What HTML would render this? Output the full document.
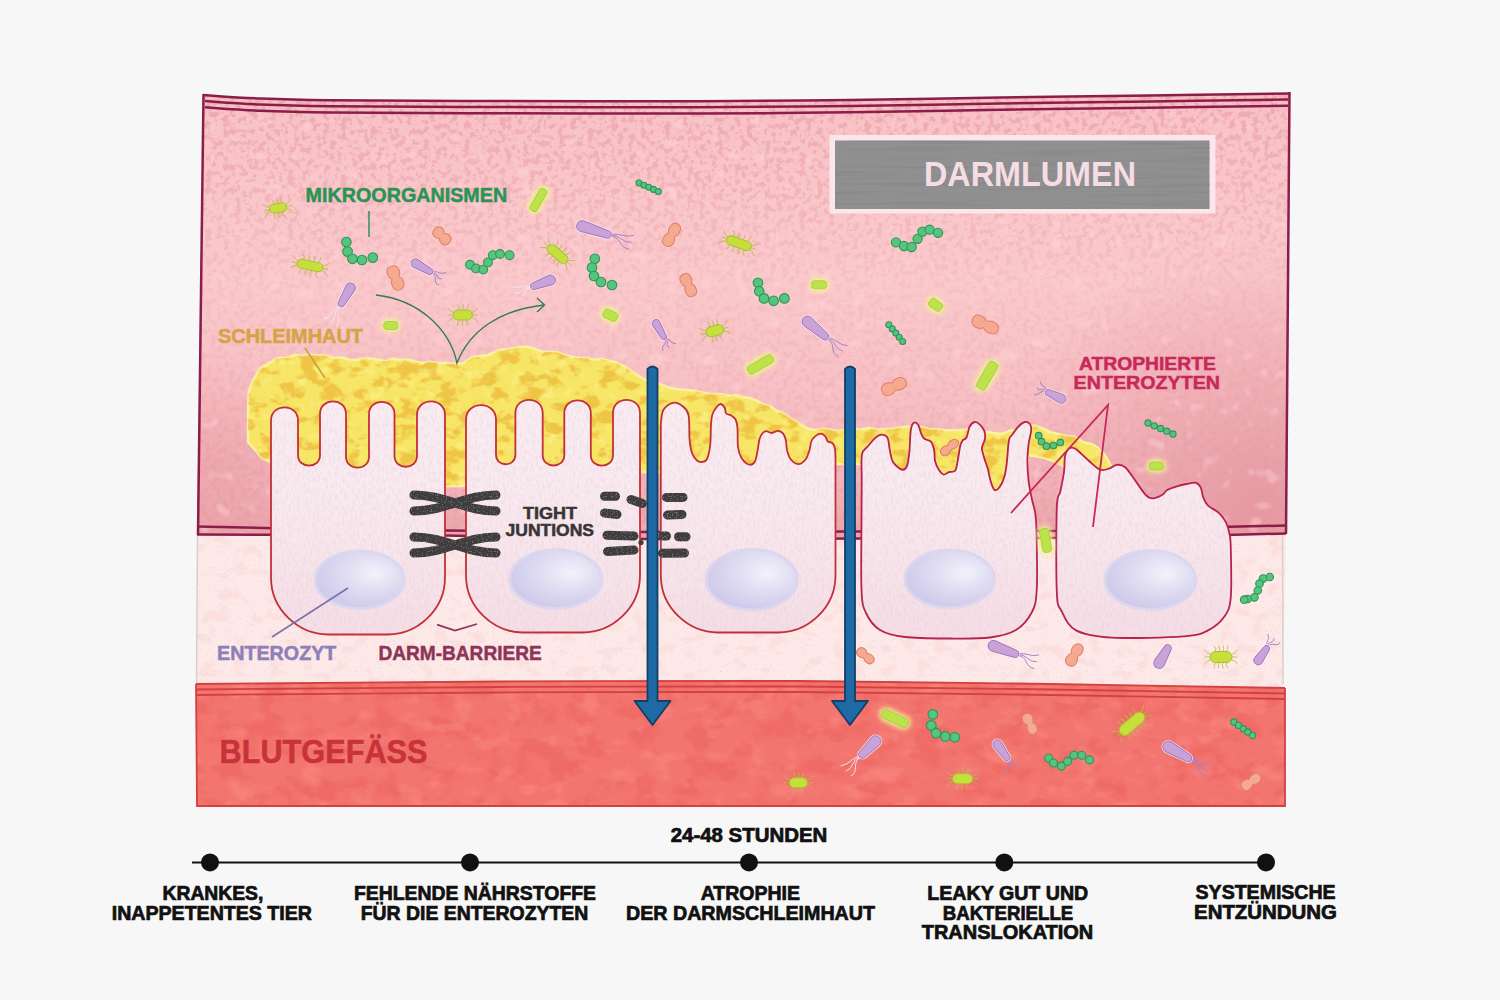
<!DOCTYPE html><html><head><meta charset="utf-8"><style>html,body{margin:0;padding:0;background:#f7f7f7;overflow:hidden;}svg{display:block;}text{font-family:"Liberation Sans",sans-serif;font-weight:bold;}</style></head><body>
<svg width="1500" height="1000" viewBox="0 0 1500 1000">
<defs>
<linearGradient id="lum" x1="0" y1="0" x2="0" y2="1">
<stop offset="0" stop-color="#f7c0c4"/><stop offset="0.12" stop-color="#f9c4c8"/><stop offset="0.42" stop-color="#fac9cc"/><stop offset="0.7" stop-color="#f6bfc3"/><stop offset="0.88" stop-color="#f2b4ba"/><stop offset="1" stop-color="#eba3aa"/>
</linearGradient>
<radialGradient id="nuc" cx="0.6" cy="0.35" r="0.8" fx="0.68" fy="0.4">
<stop offset="0" stop-color="#f3f2fa"/><stop offset="0.35" stop-color="#e2dff3"/><stop offset="0.8" stop-color="#cfcaea"/><stop offset="1" stop-color="#c8c2e5"/>
</radialGradient>
<filter id="speck" x="-0.1" y="-0.3" width="1.2" height="1.6" color-interpolation-filters="sRGB">
 <feTurbulence type="fractalNoise" baseFrequency="0.8" numOctaves="1" seed="2" result="n"/>
 <feColorMatrix in="n" type="matrix" values="0 0 0 0 0.42  0 0 0 0 0.42  0 0 0 0 0.42  -12 0 0 0 5.0" result="s"/>
 <feComposite in="s" in2="SourceAlpha" operator="in" result="s2"/>
 <feMerge><feMergeNode in="SourceGraphic"/><feMergeNode in="s2"/></feMerge>
</filter>
<filter id="glow" x="-1" y="-1" width="3" height="3"><feGaussianBlur stdDeviation="2.5"/></filter>
<filter id="tLum" x="0" y="0" width="1" height="1" color-interpolation-filters="sRGB">
 <feTurbulence type="fractalNoise" baseFrequency="0.17" numOctaves="4" seed="4"/>
 <feColorMatrix type="matrix" values="0 0 0 0 0.91  0 0 0 0 0.60  0 0 0 0 0.64  -8 0 0 0 4.0"/>
</filter>
<filter id="tLum2" x="0" y="0" width="1" height="1" color-interpolation-filters="sRGB">
 <feTurbulence type="fractalNoise" baseFrequency="0.06" numOctaves="2" seed="11"/>
 <feColorMatrix type="matrix" values="0 0 0 0 1  0 0 0 0 0.84  0 0 0 0 0.86  9 0 0 0 -5.8"/>
 <feGaussianBlur stdDeviation="1"/>
</filter>
<filter id="tMuc" x="0" y="0" width="1" height="1" color-interpolation-filters="sRGB">
 <feTurbulence type="fractalNoise" baseFrequency="0.05 0.08" numOctaves="3" seed="2"/>
 <feColorMatrix type="matrix" values="0 0 0 0 0.92  0 0 0 0 0.70  0 0 0 0 0.20  -7 0 0 0 3.6"/>
</filter>
<filter id="tMuc2" x="0" y="0" width="1" height="1" color-interpolation-filters="sRGB">
 <feTurbulence type="fractalNoise" baseFrequency="0.09" numOctaves="2" seed="5"/>
 <feColorMatrix type="matrix" values="0 0 0 0 0.99  0 0 0 0 0.95  0 0 0 0 0.55  5 0 0 0 -2.8"/>
</filter>
<filter id="tRed" x="0" y="0" width="1" height="1" color-interpolation-filters="sRGB">
 <feTurbulence type="fractalNoise" baseFrequency="0.035 0.05" numOctaves="3" seed="8"/>
 <feColorMatrix type="matrix" values="0 0 0 0 0.91  0 0 0 0 0.36  0 0 0 0 0.34  -5 0 0 0 2.6"/>
</filter>
<filter id="tRed2" x="0" y="0" width="1" height="1" color-interpolation-filters="sRGB">
 <feTurbulence type="fractalNoise" baseFrequency="0.04 0.06" numOctaves="3" seed="13"/>
 <feColorMatrix type="matrix" values="0 0 0 0 0.98  0 0 0 0 0.55  0 0 0 0 0.52  4.5 0 0 0 -2.4"/>
</filter>
<filter id="tCell" x="0" y="0" width="1" height="1" color-interpolation-filters="sRGB">
 <feTurbulence type="fractalNoise" baseFrequency="0.45 0.18" numOctaves="3" seed="3"/>
 <feColorMatrix type="matrix" values="0 0 0 0 0.91  0 0 0 0 0.78  0 0 0 0 0.84  -6 0 0 0 3.1"/>
</filter>
<filter id="tGray" x="0" y="0" width="1" height="1" color-interpolation-filters="sRGB">
 <feTurbulence type="fractalNoise" baseFrequency="0.008 0.35" numOctaves="2" seed="9"/>
 <feColorMatrix type="matrix" values="0 0 0 0 0.5  0 0 0 0 0.5  0 0 0 0 0.52  -4 0 0 0 2.1"/>
</filter>
<filter id="tCream2" x="0" y="0" width="1" height="1" color-interpolation-filters="sRGB">
 <feTurbulence type="fractalNoise" baseFrequency="0.06 0.09" numOctaves="3" seed="17"/>
 <feColorMatrix type="matrix" values="0 0 0 0 0.96  0 0 0 0 0.78  0 0 0 0 0.76  -6 0 0 0 2.75"/>
</filter>
<filter id="tCream" x="0" y="0" width="1" height="1" color-interpolation-filters="sRGB">
 <feTurbulence type="fractalNoise" baseFrequency="0.7" numOctaves="1" seed="21"/>
 <feColorMatrix type="matrix" values="0 0 0 0 0.9  0 0 0 0 0.75  0 0 0 0 0.74  -9 0 0 0 3.3"/>
</filter>

<linearGradient id="gMaskL" x1="0" y1="0" x2="0" y2="1"><stop offset="0" stop-color="#fff"/><stop offset="0.2" stop-color="#bbb"/><stop offset="0.45" stop-color="#444"/><stop offset="0.7" stop-color="#666"/><stop offset="1" stop-color="#ddd"/></linearGradient>
<radialGradient id="gBR" cx="1260" cy="500" r="260" gradientUnits="userSpaceOnUse"><stop offset="0" stop-color="#e2939c" stop-opacity="0.75"/><stop offset="0.6" stop-color="#e69aa3" stop-opacity="0.35"/><stop offset="1" stop-color="#e69aa3" stop-opacity="0"/></radialGradient>
<radialGradient id="gBL" cx="215" cy="470" r="120" gradientUnits="userSpaceOnUse"><stop offset="0" stop-color="#e6979f" stop-opacity="0.5"/><stop offset="1" stop-color="#e6979f" stop-opacity="0"/></radialGradient>
<linearGradient id="gCellV" x1="0" y1="395" x2="0" y2="640" gradientUnits="userSpaceOnUse"><stop offset="0" stop-color="#f2d2dc" stop-opacity="0"/><stop offset="0.45" stop-color="#f2d2dc" stop-opacity="0.15"/><stop offset="1" stop-color="#f0cdd8" stop-opacity="0.5"/></linearGradient>
<mask id="mLum" maskUnits="userSpaceOnUse" x="190" y="85" width="1110" height="460"><rect x="190" y="85" width="1110" height="460" fill="url(#gMaskL)"/></mask>
<clipPath id="cLum"><path d="M203.0,95.0 C212.5,95.6 238.8,97.6 260.0,98.5 C281.2,99.4 290.0,99.8 330.0,100.2 C370.0,100.6 438.3,100.8 500.0,101.0 C561.7,101.2 641.7,101.5 700.0,101.3 C758.3,101.1 800.0,100.6 850.0,100.0 C900.0,99.4 950.0,98.2 1000.0,97.5 C1050.0,96.8 1101.7,96.2 1150.0,95.5 C1198.3,94.8 1266.7,93.8 1290.0,93.5 L1286,534.5 L1286.0,534.3 L1180.0,536.8 L1047.0,538.8 L850.0,539.3 L650.0,539.8 L445.0,536.3 L320.0,535.8 L197.0,535.3 Z"/></clipPath>
<clipPath id="cMuc"><path d="M248.0,442.0 C248.1,436.2 247.6,400.5 249.0,392.0 C250.4,383.5 257.9,372.2 260.0,369.0 C262.1,365.8 265.1,365.8 266.7,364.8 C268.2,363.8 271.8,361.3 273.3,360.5 C274.9,359.8 278.3,358.3 280.0,358.0 C281.7,357.7 285.8,358.1 287.5,357.7 C289.2,357.4 293.2,355.3 295.0,355.1 C296.8,354.9 300.8,355.9 302.5,355.9 C304.2,355.8 308.2,355.0 310.0,355.0 C311.8,355.0 316.1,355.5 318.0,355.6 C319.9,355.6 324.1,355.3 326.0,355.6 C327.9,355.9 332.1,357.8 334.0,358.0 C335.9,358.2 340.1,357.3 342.0,357.5 C343.9,357.8 348.2,359.7 350.0,360.0 C351.8,360.3 355.5,359.9 357.1,359.8 C358.8,359.6 362.6,358.8 364.3,358.6 C366.0,358.5 369.8,358.6 371.4,358.7 C373.1,358.8 376.9,359.5 378.6,359.8 C380.2,360.0 384.0,361.2 385.7,361.0 C387.4,360.9 391.2,358.9 392.9,358.8 C394.5,358.7 398.3,359.9 400.0,360.0 C401.7,360.1 405.8,359.5 407.5,359.6 C409.2,359.8 413.2,361.0 415.0,361.4 C416.8,361.8 420.8,362.9 422.5,362.9 C424.2,363.0 428.1,362.0 430.0,362.0 C431.9,362.0 436.6,362.8 438.7,362.9 C440.7,363.0 445.3,362.9 447.3,363.0 C449.4,363.1 454.1,364.0 456.0,364.0 C457.9,364.0 462.1,363.6 464.0,362.9 C465.9,362.1 470.1,358.0 472.0,357.2 C473.9,356.4 478.2,356.2 480.0,356.0 C481.8,355.8 485.8,355.9 487.5,355.4 C489.2,354.9 493.2,352.5 495.0,351.8 C496.8,351.2 500.8,349.9 502.5,349.6 C504.2,349.3 508.0,349.3 510.0,349.0 C512.0,348.7 518.0,347.2 520.0,347.0 C522.0,346.8 525.8,346.8 527.5,347.0 C529.2,347.2 533.2,348.3 535.0,348.9 C536.8,349.4 540.8,351.4 542.5,351.8 C544.2,352.1 548.2,351.9 550.0,352.0 C551.8,352.1 555.8,352.1 557.5,352.5 C559.2,352.9 563.2,354.7 565.0,355.3 C566.8,355.8 570.8,356.6 572.5,356.9 C574.2,357.3 578.2,357.8 580.0,358.0 C581.8,358.2 585.8,358.1 587.5,358.3 C589.2,358.5 593.2,359.6 595.0,359.7 C596.8,359.7 600.8,358.7 602.5,358.9 C604.2,359.0 608.3,360.6 610.0,361.0 C611.7,361.4 615.1,362.0 616.7,362.6 C618.2,363.2 621.8,365.2 623.3,366.1 C624.9,366.9 628.3,368.9 630.0,370.0 C631.7,371.1 636.1,374.4 638.0,375.6 C639.9,376.7 644.1,379.2 646.0,380.0 C647.9,380.8 652.1,381.9 654.0,382.4 C655.9,383.0 660.1,384.1 662.0,384.7 C663.9,385.4 668.2,387.5 670.0,388.0 C671.8,388.5 675.8,389.1 677.5,389.3 C679.2,389.5 683.2,389.7 685.0,389.9 C686.8,390.0 690.8,390.1 692.5,390.4 C694.2,390.6 698.0,391.6 700.0,392.0 C702.0,392.4 707.7,393.7 710.0,393.9 C712.3,394.2 718.0,393.8 720.0,394.0 C722.0,394.2 725.8,395.5 727.5,395.6 C729.2,395.8 733.2,395.0 735.0,395.2 C736.8,395.4 740.8,396.9 742.5,397.2 C744.2,397.6 748.3,397.6 750.0,398.0 C751.7,398.4 755.1,400.0 756.7,400.7 C758.2,401.5 761.8,403.9 763.3,404.5 C764.9,405.1 768.4,405.3 770.0,406.0 C771.6,406.7 775.1,409.9 776.7,410.7 C778.2,411.6 781.8,412.5 783.3,413.3 C784.9,414.2 788.1,416.8 790.0,418.0 C791.9,419.2 798.0,422.8 800.0,424.0 C802.0,425.2 805.8,427.8 807.5,428.5 C809.2,429.2 813.2,430.0 815.0,430.0 C816.8,430.0 820.8,428.8 822.5,428.8 C824.2,428.7 828.2,429.5 830.0,429.7 C831.8,430.0 835.8,430.8 837.5,430.8 C839.2,430.9 843.2,430.2 845.0,430.0 C846.8,429.8 851.1,428.7 853.0,428.7 C854.9,428.6 859.1,429.7 861.0,429.6 C862.9,429.5 867.1,427.9 869.0,427.9 C870.9,427.9 875.1,429.6 877.0,429.7 C878.9,429.9 883.2,429.1 885.0,429.0 C886.8,428.9 890.9,429.2 892.7,429.0 C894.5,428.8 898.5,427.9 900.3,427.6 C902.1,427.3 906.3,426.4 908.0,426.5 C909.7,426.6 913.4,428.3 915.0,428.4 C916.6,428.5 920.4,427.2 922.0,427.3 C923.6,427.4 927.4,429.0 929.0,429.2 C930.6,429.5 934.4,429.5 936.0,429.6 C937.6,429.7 941.2,429.9 943.0,430.0 C944.8,430.1 949.1,430.3 951.0,430.3 C952.9,430.2 957.1,429.9 959.0,429.9 C960.9,429.8 965.2,429.8 967.0,430.0 C968.8,430.2 972.4,431.5 974.0,431.8 C975.6,432.1 979.4,432.8 981.0,432.8 C982.6,432.8 986.4,432.0 988.0,432.0 C989.6,432.1 993.4,433.2 995.0,433.3 C996.6,433.5 1000.1,433.8 1002.0,433.5 C1003.9,433.2 1008.9,430.8 1011.0,430.3 C1013.1,429.9 1017.4,430.6 1020.0,430.0 C1022.6,429.4 1030.2,425.6 1033.0,425.5 C1035.8,425.4 1041.9,428.2 1044.0,429.0 C1046.1,429.8 1049.4,431.6 1051.0,432.1 C1052.6,432.7 1056.2,433.6 1058.0,434.0 C1059.8,434.4 1064.5,435.6 1066.5,436.0 C1068.5,436.3 1073.0,436.3 1075.0,437.0 C1077.0,437.7 1081.9,441.5 1084.0,442.3 C1086.1,443.2 1090.7,443.2 1093.0,444.5 C1095.3,445.8 1101.5,451.2 1103.5,453.6 C1105.5,456.0 1108.8,461.7 1110.5,464.8 C1112.2,467.9 1117.1,478.2 1118.0,480.0 L1066.0,468.0 L1061.5,465.0 L1054.0,461.3 L1044.0,457.8 L1028.0,455.0 L1025.0,498.0 L864.0,498.0 L863.0,464.0 L836.0,464.0 L661.0,472.0 L640.0,472.0 L466.0,486.0 L445.0,486.0 L280.0,486.0 L271.0,462.0 L262.0,458.0Z"/></clipPath>
<clipPath id="cRed"><path d="M196.0,684.0 C246.7,683.6 399.3,682.0 500.0,681.5 C600.7,681.0 708.3,680.6 800.0,681.0 C891.7,681.4 969.2,682.8 1050.0,684.0 C1130.8,685.2 1245.8,687.3 1285.0,688.0 L1285,806 L197,806 Z"/></clipPath>
<clipPath id="cCream"><path d="M197.0,535.0 L320.0,535.5 L445.0,536.0 L650.0,539.5 L850.0,539.0 L1047.0,538.5 L1180.0,536.5 L1286.0,534.0 L1283,688 L196,685 Z"/></clipPath>
<clipPath id="cCells"><path d="M271.0,577.5 L271.0,420.5 C271.0,402.9 298.0,402.9 298.0,420.5 L298.0,455.0 C298.0,469.3 320.0,469.3 320.0,455.0 L320.0,414.0 C320.0,397.1 346.0,397.1 346.0,414.0 L346.0,456.5 C346.0,471.4 369.0,471.4 369.0,456.5 L369.0,414.2 C369.0,397.7 394.5,397.7 394.5,414.2 L394.5,455.8 C394.5,470.4 417.0,470.4 417.0,455.8 L417.0,415.0 C417.0,396.8 445.0,396.8 445.0,415.0 L445.0,577.5 C445.0,610.6 416.5,634.5 388.0,634.5 L328.0,634.5 C299.5,634.5 271.0,610.6 271.0,577.5Z"/><path d="M466.0,575.5 L466.0,419.7 C466.0,400.2 496.0,400.2 496.0,419.7 L496.0,454.8 C496.0,467.4 515.4,467.4 515.4,454.8 L515.4,413.2 C515.4,395.4 542.7,395.4 542.7,413.2 L542.7,455.0 C542.7,469.0 564.3,469.0 564.3,455.0 L564.3,413.2 C564.3,396.0 590.8,396.0 590.8,413.2 L590.8,454.9 C590.8,469.3 613.0,469.3 613.0,454.9 L613.0,413.0 C613.0,395.4 640.0,395.4 640.0,413.0 L640.0,575.5 C640.0,608.6 611.5,632.5 583.0,632.5 L523.0,632.5 C494.5,632.5 466.0,608.6 466.0,575.5Z"/><path d="M660.8,575.5 L660.8,425.0  C661.0,423.2 661.3,416.9 662.0,414.0 C662.7,411.1 663.1,409.6 665.1,407.7 C667.1,405.8 671.0,402.9 674.0,402.7 C677.0,402.5 680.5,404.4 682.9,406.5 C685.3,408.6 687.5,409.7 688.6,415.3 C689.7,420.9 689.0,433.7 689.6,440.0 C690.2,446.3 690.8,449.6 692.0,453.0 C693.2,456.4 695.3,459.0 697.0,460.5 C698.7,462.0 700.3,462.2 702.0,462.0 C703.7,461.8 705.6,461.8 707.0,459.0 C708.4,456.2 709.5,450.7 710.2,445.0 C710.9,439.3 710.6,430.2 711.0,425.0 C711.4,419.8 711.5,417.1 712.5,414.0 C713.5,410.9 715.7,408.2 717.1,406.5 C718.5,404.8 719.6,403.8 720.9,404.0 C722.2,404.2 723.8,406.1 724.7,407.7 C725.6,409.3 725.2,412.2 726.2,413.5 C727.2,414.8 729.4,414.3 731.0,415.3 C732.6,416.3 734.5,417.4 735.6,419.5 C736.7,421.6 737.1,423.4 737.5,428.0 C737.9,432.6 737.3,442.0 738.0,447.0 C738.7,452.0 739.7,455.1 741.5,458.0 C743.3,460.9 746.5,463.9 748.8,464.5 C751.0,465.1 753.5,464.2 755.0,461.5 C756.5,458.8 757.2,451.8 758.0,448.0 C758.8,444.2 758.7,441.5 759.5,439.0 C760.3,436.5 761.5,434.3 762.7,433.0 C763.9,431.7 765.0,431.2 766.5,431.2 C768.0,431.2 769.7,433.1 771.6,433.0 C773.5,432.9 776.1,430.7 778.0,430.8 C779.9,430.9 781.7,431.9 783.0,433.4 C784.3,434.9 785.1,437.2 785.8,440.0 C786.5,442.8 786.2,446.8 787.0,450.0 C787.8,453.2 788.6,456.6 790.5,459.0 C792.4,461.4 795.7,464.0 798.2,464.1 C800.7,464.2 803.6,461.9 805.5,459.5 C807.4,457.1 808.5,453.1 809.5,450.0 C810.5,446.9 810.4,443.4 811.5,441.0 C812.6,438.6 814.4,436.8 816.0,435.6 C817.6,434.4 819.5,433.6 821.0,433.7 C822.5,433.8 824.2,435.2 825.3,436.5 C826.4,437.8 826.6,440.4 827.8,441.5 C829.0,442.6 831.2,441.9 832.4,443.2 C833.6,444.4 834.5,446.5 835.0,449.0 C835.5,451.5 835.4,456.5 835.5,458.0 L835.5,575.5 C835.5,608.6 807.0,632.5 778.5,632.5 L717.8,632.5 C689.3,632.5 660.8,608.6 660.8,575.5Z"/><path d="M862.0,454.4 C863.0,448.8 865.5,449.2 867.7,446.5 C869.9,443.8 873.0,439.9 875.3,437.9 C877.6,435.9 879.6,434.7 881.6,434.7 C883.6,434.7 886.1,435.2 887.5,437.9 C888.9,440.5 889.0,446.6 889.9,450.6 C890.8,454.6 891.0,458.8 893.0,462.0 C895.0,465.2 899.6,469.0 901.9,469.6 C904.2,470.2 905.7,469.0 907.0,465.8 C908.3,462.6 908.9,456.6 909.5,450.6 C910.1,444.6 910.0,434.6 910.8,430.0 C911.5,425.4 912.7,423.5 914.0,422.7 C915.3,421.9 917.2,423.5 918.4,425.2 C919.5,426.9 920.0,430.6 920.9,432.8 C921.8,435.0 922.3,437.0 924.0,438.5 C925.7,440.0 929.3,439.7 931.0,441.7 C932.7,443.7 933.5,447.4 934.2,450.6 C934.9,453.8 934.2,457.5 935.0,460.7 C935.8,463.9 937.2,467.3 938.7,469.6 C940.2,471.9 942.0,474.2 943.7,474.6 C945.4,475.0 946.9,472.7 948.8,472.1 C950.7,471.5 953.6,472.7 955.1,470.8 C956.6,468.9 956.9,464.8 957.7,460.7 C958.6,456.6 959.4,449.4 960.2,446.0 C961.0,442.6 961.7,441.8 962.7,440.4 C963.8,439.0 965.3,439.8 966.5,437.5 C967.7,435.2 968.3,429.1 969.7,426.5 C971.1,423.9 973.1,422.3 974.8,422.0 C976.5,421.7 978.2,423.1 979.8,424.6 C981.4,426.1 983.4,428.5 984.3,430.9 C985.1,433.3 985.3,436.3 984.9,439.2 C984.5,442.1 982.0,444.8 981.9,448.0 C981.8,451.2 983.3,454.6 984.3,458.2 C985.3,461.8 987.0,465.8 988.0,469.6 C989.0,473.4 989.5,477.6 990.6,481.0 C991.7,484.4 992.9,488.8 994.4,489.8 C995.9,490.9 997.8,489.6 999.5,487.3 C1001.2,485.0 1003.4,480.3 1004.6,475.9 C1005.9,471.5 1006.3,466.7 1007.0,460.7 C1007.7,454.7 1008.1,444.3 1009.0,440.0 C1009.9,435.7 1010.6,436.9 1012.2,434.7 C1013.8,432.4 1016.4,428.6 1018.5,426.5 C1020.6,424.4 1022.9,422.4 1024.8,422.0 C1026.7,421.6 1028.8,422.6 1029.9,424.0 C1031.0,425.4 1031.4,426.9 1031.2,430.3 C1031.0,433.7 1029.2,439.1 1028.6,444.2 C1028.0,449.3 1027.4,454.6 1027.4,460.7 C1027.4,466.8 1027.9,474.7 1028.6,481.0 C1029.3,487.3 1030.6,493.0 1031.8,498.7 C1033.0,504.4 1034.7,508.1 1035.5,515.0 C1036.3,521.9 1036.5,527.5 1036.7,540.0 C1036.9,552.5 1037.5,578.0 1036.7,590.0 C1035.9,602.0 1035.5,605.3 1032.0,612.0 C1028.5,618.7 1023.0,625.8 1016.0,630.0 C1009.0,634.2 1001.0,636.1 990.0,637.5 C979.0,638.9 964.2,638.6 950.0,638.5 C935.8,638.4 916.7,638.4 905.0,637.0 C893.3,635.6 886.5,634.0 880.0,630.0 C873.5,626.0 869.1,619.7 866.0,613.0 C862.9,606.3 862.2,605.5 861.5,590.0 C860.8,574.5 861.5,538.3 861.5,520.0 C861.5,501.7 861.6,490.9 861.7,480.0 C861.8,469.1 861.0,460.0 862.0,454.4Z"/><path d="M1064.0,472.0 C1064.8,466.0 1064.2,459.2 1065.2,455.2 C1066.2,451.2 1068.2,449.0 1070.0,448.0 C1071.8,447.0 1073.0,447.2 1076.0,449.2 C1079.0,451.2 1084.0,456.6 1088.0,460.0 C1092.0,463.4 1096.4,468.2 1100.0,469.6 C1103.6,471.0 1106.8,469.2 1109.6,468.4 C1112.4,467.6 1114.2,465.0 1116.8,464.8 C1119.4,464.6 1122.0,464.4 1125.2,467.2 C1128.4,470.0 1132.6,477.0 1136.0,481.6 C1139.4,486.2 1142.8,492.0 1145.6,494.8 C1148.4,497.6 1150.0,498.4 1152.8,498.4 C1155.6,498.4 1160.0,496.2 1162.4,494.8 C1164.8,493.4 1164.8,491.4 1167.2,490.0 C1169.6,488.6 1173.6,487.4 1176.8,486.4 C1180.0,485.4 1183.2,484.6 1186.4,484.0 C1189.6,483.4 1193.6,482.2 1196.0,482.8 C1198.4,483.4 1199.6,485.2 1200.8,487.6 C1202.0,490.0 1202.0,494.2 1203.2,497.2 C1204.4,500.2 1205.4,503.0 1208.0,505.6 C1210.6,508.2 1215.8,510.0 1218.8,512.8 C1221.8,515.6 1224.2,518.8 1226.0,522.4 C1227.8,526.0 1228.8,530.0 1229.6,534.4 C1230.4,538.8 1230.6,538.4 1230.8,548.8 C1231.0,559.2 1231.8,585.6 1230.8,596.8 C1229.8,608.0 1228.6,610.4 1224.8,616.0 C1221.0,621.6 1214.8,627.0 1208.0,630.4 C1201.2,633.8 1200.0,635.2 1184.0,636.4 C1168.0,637.6 1130.0,638.6 1112.0,637.6 C1094.0,636.6 1084.4,634.8 1076.0,630.4 C1067.6,626.0 1064.8,617.6 1061.6,611.2 C1058.4,604.8 1057.6,609.2 1056.8,592.0 C1056.0,574.8 1056.2,524.8 1056.8,508.0 C1057.4,491.2 1059.2,497.2 1060.4,491.2 C1061.6,485.2 1063.2,478.0 1064.0,472.0Z"/></clipPath>
</defs>
<rect width="1500" height="1000" fill="#f7f7f7"/>
<path d="M203.0,95.0 C212.5,95.6 238.8,97.6 260.0,98.5 C281.2,99.4 290.0,99.8 330.0,100.2 C370.0,100.6 438.3,100.8 500.0,101.0 C561.7,101.2 641.7,101.5 700.0,101.3 C758.3,101.1 800.0,100.6 850.0,100.0 C900.0,99.4 950.0,98.2 1000.0,97.5 C1050.0,96.8 1101.7,96.2 1150.0,95.5 C1198.3,94.8 1266.7,93.8 1290.0,93.5 L1286,534.5 L1286.0,534.3 L1180.0,536.8 L1047.0,538.8 L850.0,539.3 L650.0,539.8 L445.0,536.3 L320.0,535.8 L197.0,535.3 Z" fill="url(#lum)"/>
<g clip-path="url(#cLum)"><rect x="195" y="90" width="1100" height="450" fill="url(#gBR)"/><rect x="195" y="90" width="1100" height="450" fill="url(#gBL)"/></g>
<g clip-path="url(#cLum)"><rect x="195" y="90" width="1100" height="450" filter="url(#tLum)" opacity="0.6" mask="url(#mLum)"/><rect x="195" y="90" width="1100" height="450" filter="url(#tLum2)" opacity="0.4"/></g>
<path d="M197.0,535.0 L320.0,535.5 L445.0,536.0 L650.0,539.5 L850.0,539.0 L1047.0,538.5 L1180.0,536.5 L1286.0,534.0 L1283,688 L196,685 Z" fill="#fde9e8"/>
<g clip-path="url(#cCream)"><rect x="195" y="530" width="1100" height="160" filter="url(#tCream)" opacity="0.4"/><rect x="195" y="530" width="1100" height="160" filter="url(#tCream2)" opacity="0.25"/></g>
<path d="M197.5,536 L196.5,684" stroke="#d9cfcf" stroke-width="1.5" fill="none"/>
<path d="M1282.5,534 L1283,684" stroke="#d9cfcf" stroke-width="1.5" fill="none"/>
<path d="M196.0,684.0 C246.7,683.6 399.3,682.0 500.0,681.5 C600.7,681.0 708.3,680.6 800.0,681.0 C891.7,681.4 969.2,682.8 1050.0,684.0 C1130.8,685.2 1245.8,687.3 1285.0,688.0 L1285,806 L197,806 Z" fill="#f3756f"/>
<g clip-path="url(#cRed)"><rect x="195" y="680" width="1100" height="130" filter="url(#tRed)" opacity="0.4"/><rect x="195" y="680" width="1100" height="130" filter="url(#tRed2)" opacity="0.5"/></g>
<g stroke="#d2413f" stroke-width="1.8" fill="none">
<path d="M196.0,684.0 C246.7,683.6 399.3,682.0 500.0,681.5 C600.7,681.0 708.3,680.6 800.0,681.0 C891.7,681.4 969.2,682.8 1050.0,684.0 C1130.8,685.2 1245.8,687.3 1285.0,688.0"/>
<path d="M196.0,689.5 C246.7,689.1 399.3,687.5 500.0,687.0 C600.7,686.5 708.3,686.1 800.0,686.5 C891.7,686.9 969.2,688.3 1050.0,689.5 C1130.8,690.7 1245.8,692.8 1285.0,693.5"/>
<path d="M196.0,695.0 C246.7,694.6 399.3,693.0 500.0,692.5 C600.7,692.0 708.3,691.6 800.0,692.0 C891.7,692.4 969.2,693.8 1050.0,695.0 C1130.8,696.2 1245.8,698.3 1285.0,699.0"/>
<path d="M196,684 L197,806 L1285,806 L1285,688"/>
</g>
<path d="M248.0,442.0 C248.1,436.2 247.6,400.5 249.0,392.0 C250.4,383.5 257.9,372.2 260.0,369.0 C262.1,365.8 265.1,365.8 266.7,364.8 C268.2,363.8 271.8,361.3 273.3,360.5 C274.9,359.8 278.3,358.3 280.0,358.0 C281.7,357.7 285.8,358.1 287.5,357.7 C289.2,357.4 293.2,355.3 295.0,355.1 C296.8,354.9 300.8,355.9 302.5,355.9 C304.2,355.8 308.2,355.0 310.0,355.0 C311.8,355.0 316.1,355.5 318.0,355.6 C319.9,355.6 324.1,355.3 326.0,355.6 C327.9,355.9 332.1,357.8 334.0,358.0 C335.9,358.2 340.1,357.3 342.0,357.5 C343.9,357.8 348.2,359.7 350.0,360.0 C351.8,360.3 355.5,359.9 357.1,359.8 C358.8,359.6 362.6,358.8 364.3,358.6 C366.0,358.5 369.8,358.6 371.4,358.7 C373.1,358.8 376.9,359.5 378.6,359.8 C380.2,360.0 384.0,361.2 385.7,361.0 C387.4,360.9 391.2,358.9 392.9,358.8 C394.5,358.7 398.3,359.9 400.0,360.0 C401.7,360.1 405.8,359.5 407.5,359.6 C409.2,359.8 413.2,361.0 415.0,361.4 C416.8,361.8 420.8,362.9 422.5,362.9 C424.2,363.0 428.1,362.0 430.0,362.0 C431.9,362.0 436.6,362.8 438.7,362.9 C440.7,363.0 445.3,362.9 447.3,363.0 C449.4,363.1 454.1,364.0 456.0,364.0 C457.9,364.0 462.1,363.6 464.0,362.9 C465.9,362.1 470.1,358.0 472.0,357.2 C473.9,356.4 478.2,356.2 480.0,356.0 C481.8,355.8 485.8,355.9 487.5,355.4 C489.2,354.9 493.2,352.5 495.0,351.8 C496.8,351.2 500.8,349.9 502.5,349.6 C504.2,349.3 508.0,349.3 510.0,349.0 C512.0,348.7 518.0,347.2 520.0,347.0 C522.0,346.8 525.8,346.8 527.5,347.0 C529.2,347.2 533.2,348.3 535.0,348.9 C536.8,349.4 540.8,351.4 542.5,351.8 C544.2,352.1 548.2,351.9 550.0,352.0 C551.8,352.1 555.8,352.1 557.5,352.5 C559.2,352.9 563.2,354.7 565.0,355.3 C566.8,355.8 570.8,356.6 572.5,356.9 C574.2,357.3 578.2,357.8 580.0,358.0 C581.8,358.2 585.8,358.1 587.5,358.3 C589.2,358.5 593.2,359.6 595.0,359.7 C596.8,359.7 600.8,358.7 602.5,358.9 C604.2,359.0 608.3,360.6 610.0,361.0 C611.7,361.4 615.1,362.0 616.7,362.6 C618.2,363.2 621.8,365.2 623.3,366.1 C624.9,366.9 628.3,368.9 630.0,370.0 C631.7,371.1 636.1,374.4 638.0,375.6 C639.9,376.7 644.1,379.2 646.0,380.0 C647.9,380.8 652.1,381.9 654.0,382.4 C655.9,383.0 660.1,384.1 662.0,384.7 C663.9,385.4 668.2,387.5 670.0,388.0 C671.8,388.5 675.8,389.1 677.5,389.3 C679.2,389.5 683.2,389.7 685.0,389.9 C686.8,390.0 690.8,390.1 692.5,390.4 C694.2,390.6 698.0,391.6 700.0,392.0 C702.0,392.4 707.7,393.7 710.0,393.9 C712.3,394.2 718.0,393.8 720.0,394.0 C722.0,394.2 725.8,395.5 727.5,395.6 C729.2,395.8 733.2,395.0 735.0,395.2 C736.8,395.4 740.8,396.9 742.5,397.2 C744.2,397.6 748.3,397.6 750.0,398.0 C751.7,398.4 755.1,400.0 756.7,400.7 C758.2,401.5 761.8,403.9 763.3,404.5 C764.9,405.1 768.4,405.3 770.0,406.0 C771.6,406.7 775.1,409.9 776.7,410.7 C778.2,411.6 781.8,412.5 783.3,413.3 C784.9,414.2 788.1,416.8 790.0,418.0 C791.9,419.2 798.0,422.8 800.0,424.0 C802.0,425.2 805.8,427.8 807.5,428.5 C809.2,429.2 813.2,430.0 815.0,430.0 C816.8,430.0 820.8,428.8 822.5,428.8 C824.2,428.7 828.2,429.5 830.0,429.7 C831.8,430.0 835.8,430.8 837.5,430.8 C839.2,430.9 843.2,430.2 845.0,430.0 C846.8,429.8 851.1,428.7 853.0,428.7 C854.9,428.6 859.1,429.7 861.0,429.6 C862.9,429.5 867.1,427.9 869.0,427.9 C870.9,427.9 875.1,429.6 877.0,429.7 C878.9,429.9 883.2,429.1 885.0,429.0 C886.8,428.9 890.9,429.2 892.7,429.0 C894.5,428.8 898.5,427.9 900.3,427.6 C902.1,427.3 906.3,426.4 908.0,426.5 C909.7,426.6 913.4,428.3 915.0,428.4 C916.6,428.5 920.4,427.2 922.0,427.3 C923.6,427.4 927.4,429.0 929.0,429.2 C930.6,429.5 934.4,429.5 936.0,429.6 C937.6,429.7 941.2,429.9 943.0,430.0 C944.8,430.1 949.1,430.3 951.0,430.3 C952.9,430.2 957.1,429.9 959.0,429.9 C960.9,429.8 965.2,429.8 967.0,430.0 C968.8,430.2 972.4,431.5 974.0,431.8 C975.6,432.1 979.4,432.8 981.0,432.8 C982.6,432.8 986.4,432.0 988.0,432.0 C989.6,432.1 993.4,433.2 995.0,433.3 C996.6,433.5 1000.1,433.8 1002.0,433.5 C1003.9,433.2 1008.9,430.8 1011.0,430.3 C1013.1,429.9 1017.4,430.6 1020.0,430.0 C1022.6,429.4 1030.2,425.6 1033.0,425.5 C1035.8,425.4 1041.9,428.2 1044.0,429.0 C1046.1,429.8 1049.4,431.6 1051.0,432.1 C1052.6,432.7 1056.2,433.6 1058.0,434.0 C1059.8,434.4 1064.5,435.6 1066.5,436.0 C1068.5,436.3 1073.0,436.3 1075.0,437.0 C1077.0,437.7 1081.9,441.5 1084.0,442.3 C1086.1,443.2 1090.7,443.2 1093.0,444.5 C1095.3,445.8 1101.5,451.2 1103.5,453.6 C1105.5,456.0 1108.8,461.7 1110.5,464.8 C1112.2,467.9 1117.1,478.2 1118.0,480.0 L1066.0,468.0 L1061.5,465.0 L1054.0,461.3 L1044.0,457.8 L1028.0,455.0 L1025.0,498.0 L864.0,498.0 L863.0,464.0 L836.0,464.0 L661.0,472.0 L640.0,472.0 L466.0,486.0 L445.0,486.0 L280.0,486.0 L271.0,462.0 L262.0,458.0Z" fill="#f7e566" stroke="#faf2a0" stroke-width="2.5"/>
<g clip-path="url(#cMuc)"><rect x="240" y="340" width="890" height="150" filter="url(#tMuc)" opacity="0.62"/><rect x="240" y="340" width="890" height="150" filter="url(#tMuc2)" opacity="0.6"/></g>
<g fill="#55c47f" stroke="#2e9558" stroke-width="1.1"><circle cx="1038.7" cy="435.7" r="3.3"/><circle cx="1041.5" cy="441.7" r="3.3"/><circle cx="1046.4" cy="446.2" r="3.3"/><circle cx="1053.4" cy="445.5" r="3.3"/><circle cx="1060.4" cy="442.4" r="3.3"/></g>
<g transform="translate(949.5,447.4) rotate(-40.0)"><path d="M-10.5,0 C-10.5,-4.7 -5.8,-4.9 -2.6,-4.0 C-1.1,-3.4 -0.5,-2.6 0.0,-2.6 C2.6,-5.1 10.5,-5.1 10.5,0 C10.5,5.1 2.6,5.1 0.0,2.6 C-0.5,2.6 -1.1,3.4 -2.6,4.0 C-5.8,4.9 -10.5,4.7 -10.5,0Z" fill="#f5aa90" stroke="#de7f6a" stroke-width="1"/></g>
<g stroke="#8b1d4b" stroke-width="2.5" fill="none">
<path d="M197.0,526.5 C217.5,526.9 278.7,528.3 320.0,529.0 C361.3,529.7 390.0,530.0 445.0,530.5 C500.0,531.0 582.5,531.8 650.0,532.0 C717.5,532.2 783.8,531.7 850.0,531.5 C916.2,531.3 992.0,531.6 1047.0,531.0 C1102.0,530.4 1140.2,528.9 1180.0,528.0 C1219.8,527.1 1268.3,525.9 1286.0,525.5"/>
<path d="M197.0,534.5 C217.5,534.6 278.7,534.8 320.0,535.0 C361.3,535.2 390.0,534.8 445.0,535.5 C500.0,536.2 582.5,538.5 650.0,539.0 C717.5,539.5 783.8,538.7 850.0,538.5 C916.2,538.3 992.0,538.4 1047.0,538.0 C1102.0,537.6 1140.2,536.8 1180.0,536.0 C1219.8,535.2 1268.3,533.9 1286.0,533.5"/>
<path d="M203.5,94 L198,535"/><path d="M1289.5,92 L1286,534"/>
<path d="M203.0,95.0 C212.5,95.6 238.8,97.6 260.0,98.5 C281.2,99.4 290.0,99.8 330.0,100.2 C370.0,100.6 438.3,100.8 500.0,101.0 C561.7,101.2 641.7,101.5 700.0,101.3 C758.3,101.1 800.0,100.6 850.0,100.0 C900.0,99.4 950.0,98.2 1000.0,97.5 C1050.0,96.8 1101.7,96.2 1150.0,95.5 C1198.3,94.8 1266.7,93.8 1290.0,93.5"/>
<path d="M205.0,101.0 C214.2,101.6 239.2,103.6 260.0,104.5 C280.8,105.4 290.0,105.8 330.0,106.2 C370.0,106.6 438.3,106.8 500.0,107.0 C561.7,107.2 641.7,107.5 700.0,107.3 C758.3,107.1 800.0,106.6 850.0,106.0 C900.0,105.4 950.0,104.2 1000.0,103.5 C1050.0,102.8 1102.0,102.2 1150.0,101.5 C1198.0,100.8 1265.0,99.8 1288.0,99.5"/>
<path d="M205.0,107.3 C214.2,107.9 239.2,109.9 260.0,110.8 C280.8,111.7 290.0,112.1 330.0,112.5 C370.0,112.9 438.3,113.1 500.0,113.3 C561.7,113.5 641.7,113.8 700.0,113.6 C758.3,113.4 800.0,112.9 850.0,112.3 C900.0,111.7 950.0,110.5 1000.0,109.8 C1050.0,109.0 1102.0,108.5 1150.0,107.8 C1198.0,107.1 1265.0,106.1 1288.0,105.8"/>
</g>
<path d="M271.0,577.5 L271.0,420.5 C271.0,402.9 298.0,402.9 298.0,420.5 L298.0,455.0 C298.0,469.3 320.0,469.3 320.0,455.0 L320.0,414.0 C320.0,397.1 346.0,397.1 346.0,414.0 L346.0,456.5 C346.0,471.4 369.0,471.4 369.0,456.5 L369.0,414.2 C369.0,397.7 394.5,397.7 394.5,414.2 L394.5,455.8 C394.5,470.4 417.0,470.4 417.0,455.8 L417.0,415.0 C417.0,396.8 445.0,396.8 445.0,415.0 L445.0,577.5 C445.0,610.6 416.5,634.5 388.0,634.5 L328.0,634.5 C299.5,634.5 271.0,610.6 271.0,577.5Z" fill="#f9edf2"/>
<path d="M466.0,575.5 L466.0,419.7 C466.0,400.2 496.0,400.2 496.0,419.7 L496.0,454.8 C496.0,467.4 515.4,467.4 515.4,454.8 L515.4,413.2 C515.4,395.4 542.7,395.4 542.7,413.2 L542.7,455.0 C542.7,469.0 564.3,469.0 564.3,455.0 L564.3,413.2 C564.3,396.0 590.8,396.0 590.8,413.2 L590.8,454.9 C590.8,469.3 613.0,469.3 613.0,454.9 L613.0,413.0 C613.0,395.4 640.0,395.4 640.0,413.0 L640.0,575.5 C640.0,608.6 611.5,632.5 583.0,632.5 L523.0,632.5 C494.5,632.5 466.0,608.6 466.0,575.5Z" fill="#f9edf2"/>
<path d="M660.8,575.5 L660.8,425.0  C661.0,423.2 661.3,416.9 662.0,414.0 C662.7,411.1 663.1,409.6 665.1,407.7 C667.1,405.8 671.0,402.9 674.0,402.7 C677.0,402.5 680.5,404.4 682.9,406.5 C685.3,408.6 687.5,409.7 688.6,415.3 C689.7,420.9 689.0,433.7 689.6,440.0 C690.2,446.3 690.8,449.6 692.0,453.0 C693.2,456.4 695.3,459.0 697.0,460.5 C698.7,462.0 700.3,462.2 702.0,462.0 C703.7,461.8 705.6,461.8 707.0,459.0 C708.4,456.2 709.5,450.7 710.2,445.0 C710.9,439.3 710.6,430.2 711.0,425.0 C711.4,419.8 711.5,417.1 712.5,414.0 C713.5,410.9 715.7,408.2 717.1,406.5 C718.5,404.8 719.6,403.8 720.9,404.0 C722.2,404.2 723.8,406.1 724.7,407.7 C725.6,409.3 725.2,412.2 726.2,413.5 C727.2,414.8 729.4,414.3 731.0,415.3 C732.6,416.3 734.5,417.4 735.6,419.5 C736.7,421.6 737.1,423.4 737.5,428.0 C737.9,432.6 737.3,442.0 738.0,447.0 C738.7,452.0 739.7,455.1 741.5,458.0 C743.3,460.9 746.5,463.9 748.8,464.5 C751.0,465.1 753.5,464.2 755.0,461.5 C756.5,458.8 757.2,451.8 758.0,448.0 C758.8,444.2 758.7,441.5 759.5,439.0 C760.3,436.5 761.5,434.3 762.7,433.0 C763.9,431.7 765.0,431.2 766.5,431.2 C768.0,431.2 769.7,433.1 771.6,433.0 C773.5,432.9 776.1,430.7 778.0,430.8 C779.9,430.9 781.7,431.9 783.0,433.4 C784.3,434.9 785.1,437.2 785.8,440.0 C786.5,442.8 786.2,446.8 787.0,450.0 C787.8,453.2 788.6,456.6 790.5,459.0 C792.4,461.4 795.7,464.0 798.2,464.1 C800.7,464.2 803.6,461.9 805.5,459.5 C807.4,457.1 808.5,453.1 809.5,450.0 C810.5,446.9 810.4,443.4 811.5,441.0 C812.6,438.6 814.4,436.8 816.0,435.6 C817.6,434.4 819.5,433.6 821.0,433.7 C822.5,433.8 824.2,435.2 825.3,436.5 C826.4,437.8 826.6,440.4 827.8,441.5 C829.0,442.6 831.2,441.9 832.4,443.2 C833.6,444.4 834.5,446.5 835.0,449.0 C835.5,451.5 835.4,456.5 835.5,458.0 L835.5,575.5 C835.5,608.6 807.0,632.5 778.5,632.5 L717.8,632.5 C689.3,632.5 660.8,608.6 660.8,575.5Z" fill="#f9edf2"/>
<path d="M862.0,454.4 C863.0,448.8 865.5,449.2 867.7,446.5 C869.9,443.8 873.0,439.9 875.3,437.9 C877.6,435.9 879.6,434.7 881.6,434.7 C883.6,434.7 886.1,435.2 887.5,437.9 C888.9,440.5 889.0,446.6 889.9,450.6 C890.8,454.6 891.0,458.8 893.0,462.0 C895.0,465.2 899.6,469.0 901.9,469.6 C904.2,470.2 905.7,469.0 907.0,465.8 C908.3,462.6 908.9,456.6 909.5,450.6 C910.1,444.6 910.0,434.6 910.8,430.0 C911.5,425.4 912.7,423.5 914.0,422.7 C915.3,421.9 917.2,423.5 918.4,425.2 C919.5,426.9 920.0,430.6 920.9,432.8 C921.8,435.0 922.3,437.0 924.0,438.5 C925.7,440.0 929.3,439.7 931.0,441.7 C932.7,443.7 933.5,447.4 934.2,450.6 C934.9,453.8 934.2,457.5 935.0,460.7 C935.8,463.9 937.2,467.3 938.7,469.6 C940.2,471.9 942.0,474.2 943.7,474.6 C945.4,475.0 946.9,472.7 948.8,472.1 C950.7,471.5 953.6,472.7 955.1,470.8 C956.6,468.9 956.9,464.8 957.7,460.7 C958.6,456.6 959.4,449.4 960.2,446.0 C961.0,442.6 961.7,441.8 962.7,440.4 C963.8,439.0 965.3,439.8 966.5,437.5 C967.7,435.2 968.3,429.1 969.7,426.5 C971.1,423.9 973.1,422.3 974.8,422.0 C976.5,421.7 978.2,423.1 979.8,424.6 C981.4,426.1 983.4,428.5 984.3,430.9 C985.1,433.3 985.3,436.3 984.9,439.2 C984.5,442.1 982.0,444.8 981.9,448.0 C981.8,451.2 983.3,454.6 984.3,458.2 C985.3,461.8 987.0,465.8 988.0,469.6 C989.0,473.4 989.5,477.6 990.6,481.0 C991.7,484.4 992.9,488.8 994.4,489.8 C995.9,490.9 997.8,489.6 999.5,487.3 C1001.2,485.0 1003.4,480.3 1004.6,475.9 C1005.9,471.5 1006.3,466.7 1007.0,460.7 C1007.7,454.7 1008.1,444.3 1009.0,440.0 C1009.9,435.7 1010.6,436.9 1012.2,434.7 C1013.8,432.4 1016.4,428.6 1018.5,426.5 C1020.6,424.4 1022.9,422.4 1024.8,422.0 C1026.7,421.6 1028.8,422.6 1029.9,424.0 C1031.0,425.4 1031.4,426.9 1031.2,430.3 C1031.0,433.7 1029.2,439.1 1028.6,444.2 C1028.0,449.3 1027.4,454.6 1027.4,460.7 C1027.4,466.8 1027.9,474.7 1028.6,481.0 C1029.3,487.3 1030.6,493.0 1031.8,498.7 C1033.0,504.4 1034.7,508.1 1035.5,515.0 C1036.3,521.9 1036.5,527.5 1036.7,540.0 C1036.9,552.5 1037.5,578.0 1036.7,590.0 C1035.9,602.0 1035.5,605.3 1032.0,612.0 C1028.5,618.7 1023.0,625.8 1016.0,630.0 C1009.0,634.2 1001.0,636.1 990.0,637.5 C979.0,638.9 964.2,638.6 950.0,638.5 C935.8,638.4 916.7,638.4 905.0,637.0 C893.3,635.6 886.5,634.0 880.0,630.0 C873.5,626.0 869.1,619.7 866.0,613.0 C862.9,606.3 862.2,605.5 861.5,590.0 C860.8,574.5 861.5,538.3 861.5,520.0 C861.5,501.7 861.6,490.9 861.7,480.0 C861.8,469.1 861.0,460.0 862.0,454.4Z" fill="#f9edf2"/>
<path d="M1064.0,472.0 C1064.8,466.0 1064.2,459.2 1065.2,455.2 C1066.2,451.2 1068.2,449.0 1070.0,448.0 C1071.8,447.0 1073.0,447.2 1076.0,449.2 C1079.0,451.2 1084.0,456.6 1088.0,460.0 C1092.0,463.4 1096.4,468.2 1100.0,469.6 C1103.6,471.0 1106.8,469.2 1109.6,468.4 C1112.4,467.6 1114.2,465.0 1116.8,464.8 C1119.4,464.6 1122.0,464.4 1125.2,467.2 C1128.4,470.0 1132.6,477.0 1136.0,481.6 C1139.4,486.2 1142.8,492.0 1145.6,494.8 C1148.4,497.6 1150.0,498.4 1152.8,498.4 C1155.6,498.4 1160.0,496.2 1162.4,494.8 C1164.8,493.4 1164.8,491.4 1167.2,490.0 C1169.6,488.6 1173.6,487.4 1176.8,486.4 C1180.0,485.4 1183.2,484.6 1186.4,484.0 C1189.6,483.4 1193.6,482.2 1196.0,482.8 C1198.4,483.4 1199.6,485.2 1200.8,487.6 C1202.0,490.0 1202.0,494.2 1203.2,497.2 C1204.4,500.2 1205.4,503.0 1208.0,505.6 C1210.6,508.2 1215.8,510.0 1218.8,512.8 C1221.8,515.6 1224.2,518.8 1226.0,522.4 C1227.8,526.0 1228.8,530.0 1229.6,534.4 C1230.4,538.8 1230.6,538.4 1230.8,548.8 C1231.0,559.2 1231.8,585.6 1230.8,596.8 C1229.8,608.0 1228.6,610.4 1224.8,616.0 C1221.0,621.6 1214.8,627.0 1208.0,630.4 C1201.2,633.8 1200.0,635.2 1184.0,636.4 C1168.0,637.6 1130.0,638.6 1112.0,637.6 C1094.0,636.6 1084.4,634.8 1076.0,630.4 C1067.6,626.0 1064.8,617.6 1061.6,611.2 C1058.4,604.8 1057.6,609.2 1056.8,592.0 C1056.0,574.8 1056.2,524.8 1056.8,508.0 C1057.4,491.2 1059.2,497.2 1060.4,491.2 C1061.6,485.2 1063.2,478.0 1064.0,472.0Z" fill="#f9edf2"/>
<g clip-path="url(#cCells)"><rect x="260" y="395" width="980" height="250" fill="url(#gCellV)"/><rect x="260" y="395" width="980" height="250" filter="url(#tCell)" opacity="0.25"/></g>
<path d="M271.0,577.5 L271.0,420.5 C271.0,402.9 298.0,402.9 298.0,420.5 L298.0,455.0 C298.0,469.3 320.0,469.3 320.0,455.0 L320.0,414.0 C320.0,397.1 346.0,397.1 346.0,414.0 L346.0,456.5 C346.0,471.4 369.0,471.4 369.0,456.5 L369.0,414.2 C369.0,397.7 394.5,397.7 394.5,414.2 L394.5,455.8 C394.5,470.4 417.0,470.4 417.0,455.8 L417.0,415.0 C417.0,396.8 445.0,396.8 445.0,415.0 L445.0,577.5 C445.0,610.6 416.5,634.5 388.0,634.5 L328.0,634.5 C299.5,634.5 271.0,610.6 271.0,577.5Z" fill="none" stroke="#c2303a" stroke-width="1.8"/>
<path d="M466.0,575.5 L466.0,419.7 C466.0,400.2 496.0,400.2 496.0,419.7 L496.0,454.8 C496.0,467.4 515.4,467.4 515.4,454.8 L515.4,413.2 C515.4,395.4 542.7,395.4 542.7,413.2 L542.7,455.0 C542.7,469.0 564.3,469.0 564.3,455.0 L564.3,413.2 C564.3,396.0 590.8,396.0 590.8,413.2 L590.8,454.9 C590.8,469.3 613.0,469.3 613.0,454.9 L613.0,413.0 C613.0,395.4 640.0,395.4 640.0,413.0 L640.0,575.5 C640.0,608.6 611.5,632.5 583.0,632.5 L523.0,632.5 C494.5,632.5 466.0,608.6 466.0,575.5Z" fill="none" stroke="#c2303a" stroke-width="1.8"/>
<path d="M660.8,575.5 L660.8,425.0  C661.0,423.2 661.3,416.9 662.0,414.0 C662.7,411.1 663.1,409.6 665.1,407.7 C667.1,405.8 671.0,402.9 674.0,402.7 C677.0,402.5 680.5,404.4 682.9,406.5 C685.3,408.6 687.5,409.7 688.6,415.3 C689.7,420.9 689.0,433.7 689.6,440.0 C690.2,446.3 690.8,449.6 692.0,453.0 C693.2,456.4 695.3,459.0 697.0,460.5 C698.7,462.0 700.3,462.2 702.0,462.0 C703.7,461.8 705.6,461.8 707.0,459.0 C708.4,456.2 709.5,450.7 710.2,445.0 C710.9,439.3 710.6,430.2 711.0,425.0 C711.4,419.8 711.5,417.1 712.5,414.0 C713.5,410.9 715.7,408.2 717.1,406.5 C718.5,404.8 719.6,403.8 720.9,404.0 C722.2,404.2 723.8,406.1 724.7,407.7 C725.6,409.3 725.2,412.2 726.2,413.5 C727.2,414.8 729.4,414.3 731.0,415.3 C732.6,416.3 734.5,417.4 735.6,419.5 C736.7,421.6 737.1,423.4 737.5,428.0 C737.9,432.6 737.3,442.0 738.0,447.0 C738.7,452.0 739.7,455.1 741.5,458.0 C743.3,460.9 746.5,463.9 748.8,464.5 C751.0,465.1 753.5,464.2 755.0,461.5 C756.5,458.8 757.2,451.8 758.0,448.0 C758.8,444.2 758.7,441.5 759.5,439.0 C760.3,436.5 761.5,434.3 762.7,433.0 C763.9,431.7 765.0,431.2 766.5,431.2 C768.0,431.2 769.7,433.1 771.6,433.0 C773.5,432.9 776.1,430.7 778.0,430.8 C779.9,430.9 781.7,431.9 783.0,433.4 C784.3,434.9 785.1,437.2 785.8,440.0 C786.5,442.8 786.2,446.8 787.0,450.0 C787.8,453.2 788.6,456.6 790.5,459.0 C792.4,461.4 795.7,464.0 798.2,464.1 C800.7,464.2 803.6,461.9 805.5,459.5 C807.4,457.1 808.5,453.1 809.5,450.0 C810.5,446.9 810.4,443.4 811.5,441.0 C812.6,438.6 814.4,436.8 816.0,435.6 C817.6,434.4 819.5,433.6 821.0,433.7 C822.5,433.8 824.2,435.2 825.3,436.5 C826.4,437.8 826.6,440.4 827.8,441.5 C829.0,442.6 831.2,441.9 832.4,443.2 C833.6,444.4 834.5,446.5 835.0,449.0 C835.5,451.5 835.4,456.5 835.5,458.0 L835.5,575.5 C835.5,608.6 807.0,632.5 778.5,632.5 L717.8,632.5 C689.3,632.5 660.8,608.6 660.8,575.5Z" fill="none" stroke="#c2303a" stroke-width="1.8"/>
<path d="M862.0,454.4 C863.0,448.8 865.5,449.2 867.7,446.5 C869.9,443.8 873.0,439.9 875.3,437.9 C877.6,435.9 879.6,434.7 881.6,434.7 C883.6,434.7 886.1,435.2 887.5,437.9 C888.9,440.5 889.0,446.6 889.9,450.6 C890.8,454.6 891.0,458.8 893.0,462.0 C895.0,465.2 899.6,469.0 901.9,469.6 C904.2,470.2 905.7,469.0 907.0,465.8 C908.3,462.6 908.9,456.6 909.5,450.6 C910.1,444.6 910.0,434.6 910.8,430.0 C911.5,425.4 912.7,423.5 914.0,422.7 C915.3,421.9 917.2,423.5 918.4,425.2 C919.5,426.9 920.0,430.6 920.9,432.8 C921.8,435.0 922.3,437.0 924.0,438.5 C925.7,440.0 929.3,439.7 931.0,441.7 C932.7,443.7 933.5,447.4 934.2,450.6 C934.9,453.8 934.2,457.5 935.0,460.7 C935.8,463.9 937.2,467.3 938.7,469.6 C940.2,471.9 942.0,474.2 943.7,474.6 C945.4,475.0 946.9,472.7 948.8,472.1 C950.7,471.5 953.6,472.7 955.1,470.8 C956.6,468.9 956.9,464.8 957.7,460.7 C958.6,456.6 959.4,449.4 960.2,446.0 C961.0,442.6 961.7,441.8 962.7,440.4 C963.8,439.0 965.3,439.8 966.5,437.5 C967.7,435.2 968.3,429.1 969.7,426.5 C971.1,423.9 973.1,422.3 974.8,422.0 C976.5,421.7 978.2,423.1 979.8,424.6 C981.4,426.1 983.4,428.5 984.3,430.9 C985.1,433.3 985.3,436.3 984.9,439.2 C984.5,442.1 982.0,444.8 981.9,448.0 C981.8,451.2 983.3,454.6 984.3,458.2 C985.3,461.8 987.0,465.8 988.0,469.6 C989.0,473.4 989.5,477.6 990.6,481.0 C991.7,484.4 992.9,488.8 994.4,489.8 C995.9,490.9 997.8,489.6 999.5,487.3 C1001.2,485.0 1003.4,480.3 1004.6,475.9 C1005.9,471.5 1006.3,466.7 1007.0,460.7 C1007.7,454.7 1008.1,444.3 1009.0,440.0 C1009.9,435.7 1010.6,436.9 1012.2,434.7 C1013.8,432.4 1016.4,428.6 1018.5,426.5 C1020.6,424.4 1022.9,422.4 1024.8,422.0 C1026.7,421.6 1028.8,422.6 1029.9,424.0 C1031.0,425.4 1031.4,426.9 1031.2,430.3 C1031.0,433.7 1029.2,439.1 1028.6,444.2 C1028.0,449.3 1027.4,454.6 1027.4,460.7 C1027.4,466.8 1027.9,474.7 1028.6,481.0 C1029.3,487.3 1030.6,493.0 1031.8,498.7 C1033.0,504.4 1034.7,508.1 1035.5,515.0 C1036.3,521.9 1036.5,527.5 1036.7,540.0 C1036.9,552.5 1037.5,578.0 1036.7,590.0 C1035.9,602.0 1035.5,605.3 1032.0,612.0 C1028.5,618.7 1023.0,625.8 1016.0,630.0 C1009.0,634.2 1001.0,636.1 990.0,637.5 C979.0,638.9 964.2,638.6 950.0,638.5 C935.8,638.4 916.7,638.4 905.0,637.0 C893.3,635.6 886.5,634.0 880.0,630.0 C873.5,626.0 869.1,619.7 866.0,613.0 C862.9,606.3 862.2,605.5 861.5,590.0 C860.8,574.5 861.5,538.3 861.5,520.0 C861.5,501.7 861.6,490.9 861.7,480.0 C861.8,469.1 861.0,460.0 862.0,454.4Z" fill="none" stroke="#b8234e" stroke-width="1.8"/>
<path d="M1064.0,472.0 C1064.8,466.0 1064.2,459.2 1065.2,455.2 C1066.2,451.2 1068.2,449.0 1070.0,448.0 C1071.8,447.0 1073.0,447.2 1076.0,449.2 C1079.0,451.2 1084.0,456.6 1088.0,460.0 C1092.0,463.4 1096.4,468.2 1100.0,469.6 C1103.6,471.0 1106.8,469.2 1109.6,468.4 C1112.4,467.6 1114.2,465.0 1116.8,464.8 C1119.4,464.6 1122.0,464.4 1125.2,467.2 C1128.4,470.0 1132.6,477.0 1136.0,481.6 C1139.4,486.2 1142.8,492.0 1145.6,494.8 C1148.4,497.6 1150.0,498.4 1152.8,498.4 C1155.6,498.4 1160.0,496.2 1162.4,494.8 C1164.8,493.4 1164.8,491.4 1167.2,490.0 C1169.6,488.6 1173.6,487.4 1176.8,486.4 C1180.0,485.4 1183.2,484.6 1186.4,484.0 C1189.6,483.4 1193.6,482.2 1196.0,482.8 C1198.4,483.4 1199.6,485.2 1200.8,487.6 C1202.0,490.0 1202.0,494.2 1203.2,497.2 C1204.4,500.2 1205.4,503.0 1208.0,505.6 C1210.6,508.2 1215.8,510.0 1218.8,512.8 C1221.8,515.6 1224.2,518.8 1226.0,522.4 C1227.8,526.0 1228.8,530.0 1229.6,534.4 C1230.4,538.8 1230.6,538.4 1230.8,548.8 C1231.0,559.2 1231.8,585.6 1230.8,596.8 C1229.8,608.0 1228.6,610.4 1224.8,616.0 C1221.0,621.6 1214.8,627.0 1208.0,630.4 C1201.2,633.8 1200.0,635.2 1184.0,636.4 C1168.0,637.6 1130.0,638.6 1112.0,637.6 C1094.0,636.6 1084.4,634.8 1076.0,630.4 C1067.6,626.0 1064.8,617.6 1061.6,611.2 C1058.4,604.8 1057.6,609.2 1056.8,592.0 C1056.0,574.8 1056.2,524.8 1056.8,508.0 C1057.4,491.2 1059.2,497.2 1060.4,491.2 C1061.6,485.2 1063.2,478.0 1064.0,472.0Z" fill="none" stroke="#b8234e" stroke-width="1.8"/>
<ellipse cx="359.6" cy="579.7" rx="44.5" ry="28.8" fill="url(#nuc)" stroke="#dcd7ef" stroke-width="3"/>
<ellipse cx="555.7" cy="579.0" rx="46.0" ry="29.3" fill="url(#nuc)" stroke="#dcd7ef" stroke-width="3"/>
<ellipse cx="751.8" cy="579.7" rx="45.5" ry="30.3" fill="url(#nuc)" stroke="#dcd7ef" stroke-width="3"/>
<ellipse cx="949.6" cy="578.8" rx="44.7" ry="28.8" fill="url(#nuc)" stroke="#dcd7ef" stroke-width="3"/>
<ellipse cx="1150.4" cy="580.0" rx="45.3" ry="29.4" fill="url(#nuc)" stroke="#dcd7ef" stroke-width="3"/>
<g stroke="#3e3c3d" stroke-width="9" stroke-linecap="round" fill="none" filter="url(#speck)">
<path d="M414,495 C445,495 465,511 496,511"/>
<path d="M414,511 C445,511 465,495 496,495"/>
<path d="M414,537 C445,537 465,553 496,553"/>
<path d="M414,553 C445,553 465,537 496,537"/>
<path d="M604.5,496.3 L615.5,496.3"/>
<path d="M631.0,499.5 L642.5,503.5"/>
<path d="M666.5,497.4 L683.0,497.4"/>
<path d="M604.5,513.0 L617.0,514.5"/>
<path d="M667.5,515.0 L682.0,514.5"/>
<path d="M607.0,535.3 L634.0,536.0"/>
<path d="M663.0,536.0 L666.5,536.0"/>
<path d="M678.5,536.8 L686.0,536.8"/>
<path d="M607.5,551.5 L634.0,550.0"/>
<path d="M662.5,553.3 L684.5,553.0"/>
<circle cx="641" cy="542.6" r="2.6" fill="#3e3c3d" stroke="none"/>
</g>
<g transform="translate(278.0,208.0) rotate(-10.0)"><g stroke="#c0b650" stroke-width="0.85" fill="none" stroke-linecap="round"><path d="M-3.6,-4.5 q1.3,-3.0 -1.3,-5.5"/><path d="M-3.6,4.5 q-1.9,3.0 -1.3,5.5"/><path d="M-0.0,-4.5 q1.6,-3.0 -0.0,-5.5"/><path d="M-0.0,4.5 q-1.6,3.0 -0.0,5.5"/><path d="M3.6,-4.5 q1.9,-3.0 1.3,-5.5"/><path d="M3.6,4.5 q-1.3,3.0 1.3,5.5"/><path d="M-8.5,-2.2 q-2.5,-0.5 -5.5,-4.1"/><path d="M-8.5,2.2 q-2.5,0.5 -5.5,4.1"/><path d="M-8.5,0 l-5.0,0"/><path d="M8.5,-2.2 q2.5,-0.5 5.5,-4.1"/><path d="M8.5,2.2 q2.5,0.5 5.5,4.1"/><path d="M8.5,0 l5.0,0"/></g><rect x="-8.5" y="-4.5" width="17.0" height="9.0" rx="4.5" fill="#c6df3c" stroke="#a9c02e" stroke-width="1"/></g>
<g fill="#55c47f" stroke="#2e9558" stroke-width="1.1"><circle cx="346.4" cy="242.0" r="4.8"/><circle cx="347.6" cy="251.6" r="4.8"/><circle cx="352.4" cy="258.8" r="4.8"/><circle cx="362.0" cy="260.0" r="4.8"/><circle cx="372.8" cy="257.6" r="4.8"/></g>
<g transform="translate(310.0,265.5) rotate(12.0)"><g stroke="#c0b650" stroke-width="0.85" fill="none" stroke-linecap="round"><path d="M-7.4,-4.5 q1.3,-3.0 -1.7,-5.5"/><path d="M-7.4,4.5 q-1.9,3.0 -1.7,5.5"/><path d="M-2.5,-4.5 q1.5,-3.0 -0.6,-5.5"/><path d="M-2.5,4.5 q-1.7,3.0 -0.6,5.5"/><path d="M2.5,-4.5 q1.7,-3.0 0.6,-5.5"/><path d="M2.5,4.5 q-1.5,3.0 0.6,5.5"/><path d="M7.4,-4.5 q1.9,-3.0 1.7,-5.5"/><path d="M7.4,4.5 q-1.3,3.0 1.7,5.5"/><path d="M-13.0,-2.2 q-2.5,-0.5 -5.5,-4.1"/><path d="M-13.0,2.2 q-2.5,0.5 -5.5,4.1"/><path d="M-13.0,0 l-5.0,0"/><path d="M13.0,-2.2 q2.5,-0.5 5.5,-4.1"/><path d="M13.0,2.2 q2.5,0.5 5.5,4.1"/><path d="M13.0,0 l5.0,0"/></g><rect x="-13.0" y="-4.5" width="26.0" height="9.0" rx="4.5" fill="#c6df3c" stroke="#a9c02e" stroke-width="1"/></g>
<g transform="translate(442.0,236.0) rotate(45.0)"><path d="M-10.0,0 C-10.0,-6.1 -5.5,-6.3 -2.5,-5.2 C-1.0,-4.4 -0.5,-3.4 0.0,-3.4 C2.5,-6.6 10.0,-6.6 10.0,0 C10.0,6.6 2.5,6.6 0.0,3.4 C-0.5,3.4 -1.0,4.4 -2.5,5.2 C-5.5,6.3 -10.0,6.1 -10.0,0Z" fill="#f5aa90" stroke="#de7f6a" stroke-width="1"/></g>
<g transform="translate(395.6,278.0) rotate(68.0)"><path d="M-12.5,0 C-12.5,-6.6 -6.9,-6.9 -3.1,-5.7 C-1.2,-4.8 -0.6,-3.7 0.0,-3.7 C3.1,-7.2 12.5,-7.2 12.5,0 C12.5,7.2 3.1,7.2 0.0,3.7 C-0.6,3.7 -1.2,4.8 -3.1,5.7 C-6.9,6.9 -12.5,6.6 -12.5,0Z" fill="#f5aa90" stroke="#de7f6a" stroke-width="1"/></g>
<g transform="translate(422.0,267.0) rotate(30.0) scale(1,1)"><g stroke="#a784c4" stroke-width="0.9" fill="none"><path d="M11.5,-1.1 q3.0,-2.5 6.0,-2.6 t6.0,-3.5"/><path d="M11.5,0.0 q3.0,-2.5 6.0,0.0 t6.0,0.0"/><path d="M11.5,1.1 q3.0,-2.5 6.0,2.6 t6.0,3.5"/></g><path d="M-7.5,-4.5 L8.9,-3.1 A3.1,3.1 0 0 1 8.9,3.1 L-7.5,4.5 A4.5,4.5 0 0 1 -7.5,-4.5Z" fill="none" stroke="#f7eaf5" stroke-width="2.6" opacity="0.8"/><path d="M-7.5,-4.5 L8.9,-3.1 A3.1,3.1 0 0 1 8.9,3.1 L-7.5,4.5 A4.5,4.5 0 0 1 -7.5,-4.5Z" fill="#c9a3d8" stroke="#9f73ba" stroke-width="0.9"/></g>
<g fill="#55c47f" stroke="#2e9558" stroke-width="1.1"><circle cx="470.0" cy="264.8" r="4.4"/><circle cx="476.0" cy="268.4" r="4.4"/><circle cx="483.2" cy="269.6" r="4.4"/><circle cx="488.0" cy="262.4" r="4.4"/><circle cx="492.8" cy="255.2" r="4.4"/><circle cx="500.0" cy="254.0" r="4.4"/><circle cx="509.6" cy="255.2" r="4.4"/></g>
<g transform="translate(346.4,294.8) rotate(-60.0) scale(-1,1)"><g stroke="#f4e4f0" stroke-width="0.9" fill="none"><path d="M12.5,-1.1 q5.0,-2.5 10.0,-2.6 t10.0,-3.5"/><path d="M12.5,0.0 q5.0,-2.5 10.0,0.0 t10.0,0.0"/><path d="M12.5,1.1 q5.0,-2.5 10.0,2.6 t10.0,3.5"/></g><path d="M-8.0,-5.0 L9.6,-3.4 A3.4,3.4 0 0 1 9.6,3.4 L-8.0,5.0 A5.0,5.0 0 0 1 -8.0,-5.0Z" fill="none" stroke="#f7eaf5" stroke-width="2.6" opacity="0.8"/><path d="M-8.0,-5.0 L9.6,-3.4 A3.4,3.4 0 0 1 9.6,3.4 L-8.0,5.0 A5.0,5.0 0 0 1 -8.0,-5.0Z" fill="#c9a3d8" stroke="#9f73ba" stroke-width="0.9"/></g>
<g transform="translate(390.8,325.5) rotate(0.0)"><rect x="-10.0" y="-7.0" width="20.0" height="14.0" rx="7.0" fill="#f3f596" opacity="0.9" filter="url(#glow)"/><rect x="-7.0" y="-4.0" width="14.0" height="8.0" rx="3.0" fill="#bde34a" stroke="#a6cc3a" stroke-width="0.8"/></g>
<g transform="translate(462.8,315.0) rotate(0.0)"><g stroke="#c0b650" stroke-width="0.85" fill="none" stroke-linecap="round"><path d="M-4.0,-5.0 q1.3,-3.0 -1.3,-5.5"/><path d="M-4.0,5.0 q-1.9,3.0 -1.3,5.5"/><path d="M0.0,-5.0 q1.6,-3.0 0.0,-5.5"/><path d="M0.0,5.0 q-1.6,3.0 0.0,5.5"/><path d="M4.0,-5.0 q1.9,-3.0 1.3,-5.5"/><path d="M4.0,5.0 q-1.3,3.0 1.3,5.5"/><path d="M-9.5,-2.5 q-2.5,-0.5 -5.5,-4.1"/><path d="M-9.5,2.5 q-2.5,0.5 -5.5,4.1"/><path d="M-9.5,0 l-5.0,0"/><path d="M9.5,-2.5 q2.5,-0.5 5.5,-4.1"/><path d="M9.5,2.5 q2.5,0.5 5.5,4.1"/><path d="M9.5,0 l5.0,0"/></g><rect x="-9.5" y="-5.0" width="19.0" height="10.0" rx="5.0" fill="#c6df3c" stroke="#a9c02e" stroke-width="1"/></g>
<g transform="translate(538.4,200.0) rotate(-60.0)"><rect x="-15.5" y="-7.0" width="31.0" height="14.0" rx="7.0" fill="#f3f596" opacity="0.9" filter="url(#glow)"/><rect x="-12.5" y="-4.0" width="25.0" height="8.0" rx="3.0" fill="#bde34a" stroke="#a6cc3a" stroke-width="0.8"/></g>
<g transform="translate(543.0,282.8) rotate(-20.0) scale(-1,1)"><g stroke="#f4e4f0" stroke-width="0.9" fill="none"><path d="M12.5,-1.1 q4.5,-2.5 9.0,-2.6 t9.0,-3.5"/><path d="M12.5,0.0 q4.5,-2.5 9.0,0.0 t9.0,0.0"/><path d="M12.5,1.1 q4.5,-2.5 9.0,2.6 t9.0,3.5"/></g><path d="M-8.0,-5.0 L9.6,-3.4 A3.4,3.4 0 0 1 9.6,3.4 L-8.0,5.0 A5.0,5.0 0 0 1 -8.0,-5.0Z" fill="none" stroke="#f7eaf5" stroke-width="2.6" opacity="0.8"/><path d="M-8.0,-5.0 L9.6,-3.4 A3.4,3.4 0 0 1 9.6,3.4 L-8.0,5.0 A5.0,5.0 0 0 1 -8.0,-5.0Z" fill="#c9a3d8" stroke="#9f73ba" stroke-width="0.9"/></g>
<g transform="translate(557.6,254.0) rotate(40.0)"><g stroke="#c0b650" stroke-width="0.85" fill="none" stroke-linecap="round"><path d="M-6.6,-4.5 q1.3,-3.0 -1.7,-5.5"/><path d="M-6.6,4.5 q-1.9,3.0 -1.7,5.5"/><path d="M-2.2,-4.5 q1.5,-3.0 -0.6,-5.5"/><path d="M-2.2,4.5 q-1.7,3.0 -0.6,5.5"/><path d="M2.2,-4.5 q1.7,-3.0 0.6,-5.5"/><path d="M2.2,4.5 q-1.5,3.0 0.6,5.5"/><path d="M6.6,-4.5 q1.9,-3.0 1.7,-5.5"/><path d="M6.6,4.5 q-1.3,3.0 1.7,5.5"/><path d="M-12.0,-2.2 q-2.5,-0.5 -5.5,-4.1"/><path d="M-12.0,2.2 q-2.5,0.5 -5.5,4.1"/><path d="M-12.0,0 l-5.0,0"/><path d="M12.0,-2.2 q2.5,-0.5 5.5,-4.1"/><path d="M12.0,2.2 q2.5,0.5 5.5,4.1"/><path d="M12.0,0 l5.0,0"/></g><rect x="-12.0" y="-4.5" width="24.0" height="9.0" rx="4.5" fill="#c6df3c" stroke="#a9c02e" stroke-width="1"/></g>
<g fill="#55c47f" stroke="#2e9558" stroke-width="1.1"><circle cx="639.0" cy="183.0" r="3.0"/><circle cx="643.9" cy="185.2" r="3.0"/><circle cx="648.7" cy="187.3" r="3.0"/><circle cx="653.5" cy="189.4" r="3.0"/><circle cx="658.4" cy="191.6" r="3.0"/></g>
<g transform="translate(594.0,230.0) rotate(18.0) scale(1,1)"><g stroke="#a784c4" stroke-width="0.9" fill="none"><path d="M17.5,-1.1 q5.5,-2.5 11.0,-2.6 t11.0,-3.5"/><path d="M17.5,0.0 q5.5,-2.5 11.0,0.0 t11.0,0.0"/><path d="M17.5,1.1 q5.5,-2.5 11.0,2.6 t11.0,3.5"/></g><path d="M-12.5,-5.5 L14.3,-3.7 A3.7,3.7 0 0 1 14.3,3.7 L-12.5,5.5 A5.5,5.5 0 0 1 -12.5,-5.5Z" fill="none" stroke="#f7eaf5" stroke-width="2.6" opacity="0.8"/><path d="M-12.5,-5.5 L14.3,-3.7 A3.7,3.7 0 0 1 14.3,3.7 L-12.5,5.5 A5.5,5.5 0 0 1 -12.5,-5.5Z" fill="#c9a3d8" stroke="#9f73ba" stroke-width="0.9"/></g>
<g transform="translate(671.6,234.8) rotate(-60.0)"><path d="M-12.5,0 C-12.5,-6.1 -6.9,-6.3 -3.1,-5.2 C-1.2,-4.4 -0.6,-3.4 0.0,-3.4 C3.1,-6.6 12.5,-6.6 12.5,0 C12.5,6.6 3.1,6.6 0.0,3.4 C-0.6,3.4 -1.2,4.4 -3.1,5.2 C-6.9,6.3 -12.5,6.1 -12.5,0Z" fill="#f5aa90" stroke="#de7f6a" stroke-width="1"/></g>
<g transform="translate(738.8,243.2) rotate(20.0)"><g stroke="#c0b650" stroke-width="0.85" fill="none" stroke-linecap="round"><path d="M-7.4,-4.5 q1.3,-3.0 -1.7,-5.5"/><path d="M-7.4,4.5 q-1.9,3.0 -1.7,5.5"/><path d="M-2.5,-4.5 q1.5,-3.0 -0.6,-5.5"/><path d="M-2.5,4.5 q-1.7,3.0 -0.6,5.5"/><path d="M2.5,-4.5 q1.7,-3.0 0.6,-5.5"/><path d="M2.5,4.5 q-1.5,3.0 0.6,5.5"/><path d="M7.4,-4.5 q1.9,-3.0 1.7,-5.5"/><path d="M7.4,4.5 q-1.3,3.0 1.7,5.5"/><path d="M-13.0,-2.2 q-2.5,-0.5 -5.5,-4.1"/><path d="M-13.0,2.2 q-2.5,0.5 -5.5,4.1"/><path d="M-13.0,0 l-5.0,0"/><path d="M13.0,-2.2 q2.5,-0.5 5.5,-4.1"/><path d="M13.0,2.2 q2.5,0.5 5.5,4.1"/><path d="M13.0,0 l5.0,0"/></g><rect x="-13.0" y="-4.5" width="26.0" height="9.0" rx="4.5" fill="#c6df3c" stroke="#a9c02e" stroke-width="1"/></g>
<g fill="#55c47f" stroke="#2e9558" stroke-width="1.1"><circle cx="594.8" cy="258.8" r="4.8"/><circle cx="592.0" cy="267.6" r="4.8"/><circle cx="594.0" cy="276.0" r="4.8"/><circle cx="601.0" cy="282.0" r="4.8"/><circle cx="612.0" cy="285.0" r="4.8"/></g>
<g transform="translate(688.4,285.2) rotate(65.0)"><path d="M-12.0,0 C-12.0,-6.1 -6.6,-6.3 -3.0,-5.2 C-1.2,-4.4 -0.6,-3.4 0.0,-3.4 C3.0,-6.6 12.0,-6.6 12.0,0 C12.0,6.6 3.0,6.6 0.0,3.4 C-0.6,3.4 -1.2,4.4 -3.0,5.2 C-6.6,6.3 -12.0,6.1 -12.0,0Z" fill="#f5aa90" stroke="#de7f6a" stroke-width="1"/></g>
<g fill="#55c47f" stroke="#2e9558" stroke-width="1.1"><circle cx="758.0" cy="282.8" r="4.8"/><circle cx="759.2" cy="291.2" r="4.8"/><circle cx="764.0" cy="298.4" r="4.8"/><circle cx="773.6" cy="300.8" r="4.8"/><circle cx="784.4" cy="298.4" r="4.8"/></g>
<g transform="translate(819.0,284.7) rotate(0.0)"><rect x="-10.5" y="-7.0" width="21.0" height="14.0" rx="7.0" fill="#f3f596" opacity="0.9" filter="url(#glow)"/><rect x="-7.5" y="-4.0" width="15.0" height="8.0" rx="3.0" fill="#bde34a" stroke="#a6cc3a" stroke-width="0.8"/></g>
<g transform="translate(610.4,315.2) rotate(25.0)"><rect x="-10.5" y="-7.5" width="21.0" height="15.0" rx="7.5" fill="#f3f596" opacity="0.9" filter="url(#glow)"/><rect x="-7.5" y="-4.5" width="15.0" height="9.0" rx="3.0" fill="#bde34a" stroke="#a6cc3a" stroke-width="0.8"/></g>
<g transform="translate(659.6,329.6) rotate(60.0) scale(1,1)"><g stroke="#a784c4" stroke-width="0.9" fill="none"><path d="M10.5,-1.1 q2.5,-2.5 5.0,-2.6 t5.0,-3.5"/><path d="M10.5,0.0 q2.5,-2.5 5.0,0.0 t5.0,0.0"/><path d="M10.5,1.1 q2.5,-2.5 5.0,2.6 t5.0,3.5"/></g><path d="M-7.0,-4.0 L8.3,-2.7 A2.7,2.7 0 0 1 8.3,2.7 L-7.0,4.0 A4.0,4.0 0 0 1 -7.0,-4.0Z" fill="none" stroke="#f7eaf5" stroke-width="2.6" opacity="0.8"/><path d="M-7.0,-4.0 L8.3,-2.7 A2.7,2.7 0 0 1 8.3,2.7 L-7.0,4.0 A4.0,4.0 0 0 1 -7.0,-4.0Z" fill="#c9a3d8" stroke="#9f73ba" stroke-width="0.9"/></g>
<g transform="translate(714.8,330.8) rotate(-15.0)"><g stroke="#c0b650" stroke-width="0.85" fill="none" stroke-linecap="round"><path d="M-3.7,-5.0 q1.4,-3.0 -1.2,-5.5"/><path d="M-3.7,5.0 q-1.8,3.0 -1.2,5.5"/><path d="M0.0,-5.0 q1.6,-3.0 0.0,-5.5"/><path d="M0.0,5.0 q-1.6,3.0 0.0,5.5"/><path d="M3.7,-5.0 q1.8,-3.0 1.2,-5.5"/><path d="M3.7,5.0 q-1.4,3.0 1.2,5.5"/><path d="M-9.0,-2.5 q-2.5,-0.5 -5.5,-4.1"/><path d="M-9.0,2.5 q-2.5,0.5 -5.5,4.1"/><path d="M-9.0,0 l-5.0,0"/><path d="M9.0,-2.5 q2.5,-0.5 5.5,-4.1"/><path d="M9.0,2.5 q2.5,0.5 5.5,4.1"/><path d="M9.0,0 l5.0,0"/></g><rect x="-9.0" y="-5.0" width="18.0" height="10.0" rx="5.0" fill="#c6df3c" stroke="#a9c02e" stroke-width="1"/></g>
<g transform="translate(815.6,328.4) rotate(40.0) scale(1,1)"><g stroke="#a784c4" stroke-width="0.9" fill="none"><path d="M15.5,-1.1 q5.0,-2.5 10.0,-2.6 t10.0,-3.5"/><path d="M15.5,0.0 q5.0,-2.5 10.0,0.0 t10.0,0.0"/><path d="M15.5,1.1 q5.0,-2.5 10.0,2.6 t10.0,3.5"/></g><path d="M-10.5,-5.5 L12.3,-3.7 A3.7,3.7 0 0 1 12.3,3.7 L-10.5,5.5 A5.5,5.5 0 0 1 -10.5,-5.5Z" fill="none" stroke="#f7eaf5" stroke-width="2.6" opacity="0.8"/><path d="M-10.5,-5.5 L12.3,-3.7 A3.7,3.7 0 0 1 12.3,3.7 L-10.5,5.5 A5.5,5.5 0 0 1 -10.5,-5.5Z" fill="#c9a3d8" stroke="#9f73ba" stroke-width="0.9"/></g>
<g transform="translate(760.4,364.4) rotate(-30.0)"><rect x="-17.0" y="-7.5" width="34.0" height="15.0" rx="7.5" fill="#f3f596" opacity="0.9" filter="url(#glow)"/><rect x="-14.0" y="-4.5" width="28.0" height="9.0" rx="3.0" fill="#bde34a" stroke="#a6cc3a" stroke-width="0.8"/></g>
<g fill="#55c47f" stroke="#2e9558" stroke-width="1.1"><circle cx="896.0" cy="242.4" r="4.6"/><circle cx="904.0" cy="246.0" r="4.6"/><circle cx="911.6" cy="247.0" r="4.6"/><circle cx="917.6" cy="238.8" r="4.6"/><circle cx="922.4" cy="231.6" r="4.6"/><circle cx="929.6" cy="229.7" r="4.6"/><circle cx="938.0" cy="232.8" r="4.6"/></g>
<g transform="translate(935.6,304.8) rotate(35.0)"><rect x="-10.0" y="-7.5" width="20.0" height="15.0" rx="7.5" fill="#f3f596" opacity="0.9" filter="url(#glow)"/><rect x="-7.0" y="-4.5" width="14.0" height="9.0" rx="3.0" fill="#bde34a" stroke="#a6cc3a" stroke-width="0.8"/></g>
<g fill="#55c47f" stroke="#2e9558" stroke-width="1.1"><circle cx="888.8" cy="324.7" r="3.0"/><circle cx="892.3" cy="328.9" r="3.0"/><circle cx="895.8" cy="333.1" r="3.0"/><circle cx="899.2" cy="337.3" r="3.0"/><circle cx="902.7" cy="341.5" r="3.0"/></g>
<g transform="translate(985.3,324.7) rotate(25.0)"><path d="M-14.0,0 C-14.0,-6.6 -7.7,-6.9 -3.5,-5.7 C-1.4,-4.8 -0.7,-3.7 0.0,-3.7 C3.5,-7.2 14.0,-7.2 14.0,0 C14.0,7.2 3.5,7.2 0.0,3.7 C-0.7,3.7 -1.4,4.8 -3.5,5.7 C-7.7,6.9 -14.0,6.6 -14.0,0Z" fill="#f5aa90" stroke="#de7f6a" stroke-width="1"/></g>
<g transform="translate(894.0,386.4) rotate(-25.0)"><path d="M-13.0,0 C-13.0,-6.6 -7.2,-6.9 -3.2,-5.7 C-1.3,-4.8 -0.7,-3.7 0.0,-3.7 C3.2,-7.2 13.0,-7.2 13.0,0 C13.0,7.2 3.2,7.2 0.0,3.7 C-0.7,3.7 -1.3,4.8 -3.2,5.7 C-7.2,6.9 -13.0,6.6 -13.0,0Z" fill="#f5aa90" stroke="#de7f6a" stroke-width="1"/></g>
<g transform="translate(987.2,375.6) rotate(-60.0)"><rect x="-18.0" y="-8.0" width="36.0" height="16.0" rx="8.0" fill="#f3f596" opacity="0.9" filter="url(#glow)"/><rect x="-15.0" y="-5.0" width="30.0" height="10.0" rx="3.0" fill="#bde34a" stroke="#a6cc3a" stroke-width="0.8"/></g>
<g transform="translate(1055.6,396.0) rotate(25.0) scale(-1,1)"><g stroke="#a784c4" stroke-width="0.9" fill="none"><path d="M10.5,-1.1 q2.5,-2.5 5.0,-2.6 t5.0,-3.5"/><path d="M10.5,0.0 q2.5,-2.5 5.0,0.0 t5.0,0.0"/><path d="M10.5,1.1 q2.5,-2.5 5.0,2.6 t5.0,3.5"/></g><path d="M-6.5,-4.5 L7.9,-3.1 A3.1,3.1 0 0 1 7.9,3.1 L-6.5,4.5 A4.5,4.5 0 0 1 -6.5,-4.5Z" fill="none" stroke="#f7eaf5" stroke-width="2.6" opacity="0.8"/><path d="M-6.5,-4.5 L7.9,-3.1 A3.1,3.1 0 0 1 7.9,3.1 L-6.5,4.5 A4.5,4.5 0 0 1 -6.5,-4.5Z" fill="#c9a3d8" stroke="#9f73ba" stroke-width="0.9"/></g>
<g fill="#55c47f" stroke="#2e9558" stroke-width="1.1"><circle cx="1148.0" cy="423.0" r="3.1"/><circle cx="1154.2" cy="425.8" r="3.1"/><circle cx="1160.5" cy="428.5" r="3.1"/><circle cx="1166.8" cy="431.2" r="3.1"/><circle cx="1173.0" cy="434.0" r="3.1"/></g>
<g transform="translate(1156.4,466.0) rotate(0.0)"><rect x="-10.0" y="-7.0" width="20.0" height="14.0" rx="7.0" fill="#f3f596" opacity="0.9" filter="url(#glow)"/><rect x="-7.0" y="-4.0" width="14.0" height="8.0" rx="3.0" fill="#bde34a" stroke="#a6cc3a" stroke-width="0.8"/></g>
<g transform="translate(1045.6,540.4) rotate(80.0)"><rect x="-15.0" y="-7.5" width="30.0" height="15.0" rx="7.5" fill="#f3f596" opacity="0.9" filter="url(#glow)"/><rect x="-12.0" y="-4.5" width="24.0" height="9.0" rx="3.0" fill="#bde34a" stroke="#a6cc3a" stroke-width="0.8"/></g>
<g fill="#55c47f" stroke="#2e9558" stroke-width="1.1"><circle cx="1269.7" cy="577.0" r="3.8"/><circle cx="1263.0" cy="578.6" r="3.8"/><circle cx="1259.5" cy="583.7" r="3.8"/><circle cx="1257.8" cy="590.5" r="3.8"/><circle cx="1254.4" cy="597.3" r="3.8"/><circle cx="1247.6" cy="599.0" r="3.8"/><circle cx="1244.2" cy="599.7" r="3.8"/></g>
<g transform="translate(1221.0,657.0) rotate(0.0)"><g stroke="#c0b650" stroke-width="0.85" fill="none" stroke-linecap="round"><path d="M-5.4,-5.5 q1.3,-3.0 -1.5,-5.5"/><path d="M-5.4,5.5 q-1.9,3.0 -1.5,5.5"/><path d="M-1.8,-5.5 q1.5,-3.0 -0.5,-5.5"/><path d="M-1.8,5.5 q-1.7,3.0 -0.5,5.5"/><path d="M1.8,-5.5 q1.7,-3.0 0.5,-5.5"/><path d="M1.8,5.5 q-1.5,3.0 0.5,5.5"/><path d="M5.4,-5.5 q1.9,-3.0 1.5,-5.5"/><path d="M5.4,5.5 q-1.3,3.0 1.5,5.5"/><path d="M-11.0,-2.8 q-2.5,-0.5 -5.5,-4.1"/><path d="M-11.0,2.8 q-2.5,0.5 -5.5,4.1"/><path d="M-11.0,0 l-5.0,0"/><path d="M11.0,-2.8 q2.5,-0.5 5.5,-4.1"/><path d="M11.0,2.8 q2.5,0.5 5.5,4.1"/><path d="M11.0,0 l5.0,0"/></g><rect x="-11.0" y="-5.5" width="22.0" height="11.0" rx="5.5" fill="#c6df3c" stroke="#a9c02e" stroke-width="1"/></g>
<g transform="translate(1262.0,655.0) rotate(-55.0) scale(1,1)"><g stroke="#a784c4" stroke-width="0.9" fill="none"><path d="M10.5,-1.1 q2.5,-2.5 5.0,-2.6 t5.0,-3.5"/><path d="M10.5,0.0 q2.5,-2.5 5.0,0.0 t5.0,0.0"/><path d="M10.5,1.1 q2.5,-2.5 5.0,2.6 t5.0,3.5"/></g><path d="M-6.5,-4.5 L7.9,-3.1 A3.1,3.1 0 0 1 7.9,3.1 L-6.5,4.5 A4.5,4.5 0 0 1 -6.5,-4.5Z" fill="none" stroke="#f7eaf5" stroke-width="2.6" opacity="0.8"/><path d="M-6.5,-4.5 L7.9,-3.1 A3.1,3.1 0 0 1 7.9,3.1 L-6.5,4.5 A4.5,4.5 0 0 1 -6.5,-4.5Z" fill="#c9a3d8" stroke="#9f73ba" stroke-width="0.9"/></g>
<g transform="translate(1163.0,656.4) rotate(-60.0) scale(1,1)"><path d="M-7.5,-5.5 L9.3,-3.7 A3.7,3.7 0 0 1 9.3,3.7 L-7.5,5.5 A5.5,5.5 0 0 1 -7.5,-5.5Z" fill="none" stroke="#f7eaf5" stroke-width="2.6" opacity="0.8"/><path d="M-7.5,-5.5 L9.3,-3.7 A3.7,3.7 0 0 1 9.3,3.7 L-7.5,5.5 A5.5,5.5 0 0 1 -7.5,-5.5Z" fill="#c9a3d8" stroke="#9f73ba" stroke-width="0.9"/></g>
<g transform="translate(1074.5,654.9) rotate(-60.0)"><path d="M-12.0,0 C-12.0,-6.1 -6.6,-6.3 -3.0,-5.2 C-1.2,-4.4 -0.6,-3.4 0.0,-3.4 C3.0,-6.6 12.0,-6.6 12.0,0 C12.0,6.6 3.0,6.6 0.0,3.4 C-0.6,3.4 -1.2,4.4 -3.0,5.2 C-6.6,6.3 -12.0,6.1 -12.0,0Z" fill="#f5aa90" stroke="#de7f6a" stroke-width="1"/></g>
<g transform="translate(1003.4,649.5) rotate(20.0) scale(1,1)"><g stroke="#a784c4" stroke-width="0.9" fill="none"><path d="M15.5,-1.1 q5.0,-2.5 10.0,-2.6 t10.0,-3.5"/><path d="M15.5,0.0 q5.0,-2.5 10.0,0.0 t10.0,0.0"/><path d="M15.5,1.1 q5.0,-2.5 10.0,2.6 t10.0,3.5"/></g><path d="M-10.5,-5.5 L12.3,-3.7 A3.7,3.7 0 0 1 12.3,3.7 L-10.5,5.5 A5.5,5.5 0 0 1 -10.5,-5.5Z" fill="none" stroke="#f7eaf5" stroke-width="2.6" opacity="0.8"/><path d="M-10.5,-5.5 L12.3,-3.7 A3.7,3.7 0 0 1 12.3,3.7 L-10.5,5.5 A5.5,5.5 0 0 1 -10.5,-5.5Z" fill="#c9a3d8" stroke="#9f73ba" stroke-width="0.9"/></g>
<g transform="translate(865.5,655.8) rotate(40.0)"><path d="M-10.0,0 C-10.0,-5.0 -5.5,-5.2 -2.5,-4.3 C-1.0,-3.6 -0.5,-2.8 0.0,-2.8 C2.5,-5.4 10.0,-5.4 10.0,0 C10.0,5.4 2.5,5.4 0.0,2.8 C-0.5,2.8 -1.0,3.6 -2.5,4.3 C-5.5,5.2 -10.0,5.0 -10.0,0Z" fill="#f5aa90" stroke="#de7f6a" stroke-width="1"/></g>
<g transform="translate(895.0,718.5) rotate(25.0)"><rect x="-17.0" y="-7.5" width="34.0" height="15.0" rx="7.5" fill="#f3f596" opacity="0.9" filter="url(#glow)"/><rect x="-14.0" y="-4.5" width="28.0" height="9.0" rx="3.0" fill="#bde34a" stroke="#a6cc3a" stroke-width="0.8"/></g>
<g fill="#55c47f" stroke="#2e9558" stroke-width="1.1"><circle cx="932.8" cy="714.4" r="4.8"/><circle cx="931.3" cy="725.4" r="4.8"/><circle cx="936.0" cy="733.2" r="4.8"/><circle cx="945.4" cy="736.4" r="4.8"/><circle cx="954.8" cy="737.3" r="4.8"/></g>
<g transform="translate(1030.0,723.8) rotate(65.0)"><path d="M-11.0,0 C-11.0,-5.5 -6.1,-5.8 -2.8,-4.8 C-1.1,-4.0 -0.6,-3.1 0.0,-3.1 C2.8,-6.0 11.0,-6.0 11.0,0 C11.0,6.0 2.8,6.0 0.0,3.1 C-0.6,3.1 -1.1,4.0 -2.8,4.8 C-6.1,5.8 -11.0,5.5 -11.0,0Z" fill="#f5aa90" stroke="#de7f6a" stroke-width="1"/></g>
<g transform="translate(1132.0,723.8) rotate(-40.0)"><g stroke="#c0b650" stroke-width="0.85" fill="none" stroke-linecap="round"><path d="M-8.9,-5.5 q1.2,-3.0 -1.8,-5.5"/><path d="M-8.9,5.5 q-2.0,3.0 -1.8,5.5"/><path d="M-4.5,-5.5 q1.4,-3.0 -0.9,-5.5"/><path d="M-4.5,5.5 q-1.8,3.0 -0.9,5.5"/><path d="M0.0,-5.5 q1.6,-3.0 0.0,-5.5"/><path d="M0.0,5.5 q-1.6,3.0 0.0,5.5"/><path d="M4.5,-5.5 q1.8,-3.0 0.9,-5.5"/><path d="M4.5,5.5 q-1.4,3.0 0.9,5.5"/><path d="M8.9,-5.5 q2.0,-3.0 1.8,-5.5"/><path d="M8.9,5.5 q-1.2,3.0 1.8,5.5"/><path d="M-15.0,-2.8 q-2.5,-0.5 -5.5,-4.1"/><path d="M-15.0,2.8 q-2.5,0.5 -5.5,4.1"/><path d="M-15.0,0 l-5.0,0"/><path d="M15.0,-2.8 q2.5,-0.5 5.5,-4.1"/><path d="M15.0,2.8 q2.5,0.5 5.5,4.1"/><path d="M15.0,0 l5.0,0"/></g><rect x="-15.0" y="-5.5" width="30.0" height="11.0" rx="5.5" fill="#c6df3c" stroke="#a9c02e" stroke-width="1"/></g>
<g fill="#55c47f" stroke="#2e9558" stroke-width="1.1"><circle cx="1233.8" cy="722.0" r="3.1"/><circle cx="1238.5" cy="725.4" r="3.1"/><circle cx="1243.2" cy="728.7" r="3.1"/><circle cx="1247.9" cy="732.0" r="3.1"/><circle cx="1252.6" cy="735.4" r="3.1"/></g>
<g transform="translate(869.5,747.3) rotate(-45.0) scale(-1,1)"><g stroke="#f6e6f0" stroke-width="0.9" fill="none"><path d="M13.5,-1.1 q5.0,-2.5 10.0,-2.6 t10.0,-3.5"/><path d="M13.5,0.0 q5.0,-2.5 10.0,0.0 t10.0,0.0"/><path d="M13.5,1.1 q5.0,-2.5 10.0,2.6 t10.0,3.5"/></g><path d="M-8.5,-5.5 L10.3,-3.7 A3.7,3.7 0 0 1 10.3,3.7 L-8.5,5.5 A5.5,5.5 0 0 1 -8.5,-5.5Z" fill="none" stroke="#f7eaf5" stroke-width="2.6" opacity="0.8"/><path d="M-8.5,-5.5 L10.3,-3.7 A3.7,3.7 0 0 1 10.3,3.7 L-8.5,5.5 A5.5,5.5 0 0 1 -8.5,-5.5Z" fill="#c9a3d8" stroke="#9f73ba" stroke-width="0.9"/></g>
<g transform="translate(1001.8,750.5) rotate(55.0) scale(1,1)"><g stroke="#a784c4" stroke-width="0.9" fill="none"><path d="M11.5,-1.1 q2.5,-2.5 5.0,-2.6 t5.0,-3.5"/><path d="M11.5,0.0 q2.5,-2.5 5.0,0.0 t5.0,0.0"/><path d="M11.5,1.1 q2.5,-2.5 5.0,2.6 t5.0,3.5"/></g><path d="M-7.5,-4.5 L8.9,-3.1 A3.1,3.1 0 0 1 8.9,3.1 L-7.5,4.5 A4.5,4.5 0 0 1 -7.5,-4.5Z" fill="none" stroke="#f7eaf5" stroke-width="2.6" opacity="0.8"/><path d="M-7.5,-4.5 L8.9,-3.1 A3.1,3.1 0 0 1 8.9,3.1 L-7.5,4.5 A4.5,4.5 0 0 1 -7.5,-4.5Z" fill="#c9a3d8" stroke="#9f73ba" stroke-width="0.9"/></g>
<g fill="#55c47f" stroke="#2e9558" stroke-width="1.1"><circle cx="1048.8" cy="758.3" r="4.0"/><circle cx="1053.5" cy="763.0" r="4.0"/><circle cx="1061.4" cy="766.1" r="4.0"/><circle cx="1067.6" cy="761.4" r="4.0"/><circle cx="1073.9" cy="755.2" r="4.0"/><circle cx="1081.8" cy="755.2" r="4.0"/><circle cx="1089.6" cy="759.9" r="4.0"/></g>
<g transform="translate(962.6,778.7) rotate(0.0)"><g stroke="#c0b650" stroke-width="0.85" fill="none" stroke-linecap="round"><path d="M-4.3,-5.0 q1.3,-3.0 -1.3,-5.5"/><path d="M-4.3,5.0 q-1.9,3.0 -1.3,5.5"/><path d="M0.0,-5.0 q1.6,-3.0 0.0,-5.5"/><path d="M0.0,5.0 q-1.6,3.0 0.0,5.5"/><path d="M4.3,-5.0 q1.9,-3.0 1.3,-5.5"/><path d="M4.3,5.0 q-1.3,3.0 1.3,5.5"/><path d="M-10.0,-2.5 q-2.5,-0.5 -5.5,-4.1"/><path d="M-10.0,2.5 q-2.5,0.5 -5.5,4.1"/><path d="M-10.0,0 l-5.0,0"/><path d="M10.0,-2.5 q2.5,-0.5 5.5,-4.1"/><path d="M10.0,2.5 q2.5,0.5 5.5,4.1"/><path d="M10.0,0 l5.0,0"/></g><rect x="-10.0" y="-5.0" width="20.0" height="10.0" rx="5.0" fill="#c6df3c" stroke="#a9c02e" stroke-width="1"/></g>
<g transform="translate(1177.4,752.0) rotate(30.0) scale(1,1)"><g stroke="#a784c4" stroke-width="0.9" fill="none"><path d="M15.5,-1.1 q5.5,-2.5 11.0,-2.6 t11.0,-3.5"/><path d="M15.5,0.0 q5.5,-2.5 11.0,0.0 t11.0,0.0"/><path d="M15.5,1.1 q5.5,-2.5 11.0,2.6 t11.0,3.5"/></g><path d="M-10.5,-5.5 L12.3,-3.7 A3.7,3.7 0 0 1 12.3,3.7 L-10.5,5.5 A5.5,5.5 0 0 1 -10.5,-5.5Z" fill="none" stroke="#f7eaf5" stroke-width="2.6" opacity="0.8"/><path d="M-10.5,-5.5 L12.3,-3.7 A3.7,3.7 0 0 1 12.3,3.7 L-10.5,5.5 A5.5,5.5 0 0 1 -10.5,-5.5Z" fill="#c9a3d8" stroke="#9f73ba" stroke-width="0.9"/></g>
<g transform="translate(1251.0,781.8) rotate(-35.0)"><path d="M-11.0,0 C-11.0,-5.5 -6.1,-5.8 -2.8,-4.8 C-1.1,-4.0 -0.6,-3.1 0.0,-3.1 C2.8,-6.0 11.0,-6.0 11.0,0 C11.0,6.0 2.8,6.0 0.0,3.1 C-0.6,3.1 -1.1,4.0 -2.8,4.8 C-6.1,5.8 -11.0,5.5 -11.0,0Z" fill="#f5aa90" stroke="#de7f6a" stroke-width="1"/></g>
<g transform="translate(798.4,782.7) rotate(0.0)"><g stroke="#c0b650" stroke-width="0.85" fill="none" stroke-linecap="round"><path d="M-3.7,-5.0 q1.4,-3.0 -1.2,-5.5"/><path d="M-3.7,5.0 q-1.8,3.0 -1.2,5.5"/><path d="M0.0,-5.0 q1.6,-3.0 0.0,-5.5"/><path d="M0.0,5.0 q-1.6,3.0 0.0,5.5"/><path d="M3.7,-5.0 q1.8,-3.0 1.2,-5.5"/><path d="M3.7,5.0 q-1.4,3.0 1.2,5.5"/><path d="M-9.0,-2.5 q-2.5,-0.5 -5.5,-4.1"/><path d="M-9.0,2.5 q-2.5,0.5 -5.5,4.1"/><path d="M-9.0,0 l-5.0,0"/><path d="M9.0,-2.5 q2.5,-0.5 5.5,-4.1"/><path d="M9.0,2.5 q2.5,0.5 5.5,4.1"/><path d="M9.0,0 l5.0,0"/></g><rect x="-9.0" y="-5.0" width="18.0" height="10.0" rx="5.0" fill="#c6df3c" stroke="#a9c02e" stroke-width="1"/></g>
<path d="M647.5,369 Q652.5,364 657.5,369 L657.5,701 L670.5,701 L652.5,725 L634.5,701 L647.5,701 Z" fill="#1d6aa5" stroke="#123f66" stroke-width="1.8" stroke-linejoin="round"/>
<path d="M845.0,369 Q850.0,364 855.0,369 L855.0,701 L868.0,701 L850.0,725 L832.0,701 L845.0,701 Z" fill="#1d6aa5" stroke="#123f66" stroke-width="1.8" stroke-linejoin="round"/>
<rect x="829.5" y="135" width="386" height="78.5" fill="#fbe6ec"/>
<rect x="835" y="140.5" width="374.5" height="68.5" fill="#909090"/>
<rect x="835" y="140.5" width="374.5" height="68.5" filter="url(#tGray)" opacity="0.35"/>
<text x="924.0" y="186.0" font-size="34.9" fill="#f6dde4" text-anchor="start" textLength="212.0" lengthAdjust="spacingAndGlyphs">DARMLUMEN</text>
<text x="305.6" y="202.4" font-size="19.9" fill="#2a9455" text-anchor="start" textLength="201.6" lengthAdjust="spacingAndGlyphs" stroke="#2a9455" stroke-width="0.50">MIKROORGANISMEN</text>
<text x="218.0" y="342.8" font-size="20.2" fill="#d4a445" text-anchor="start" textLength="145.0" lengthAdjust="spacingAndGlyphs" stroke="#d4a445" stroke-width="0.50">SCHLEIMHAUT</text>
<text x="1078.9" y="369.6" font-size="18.3" fill="#c8285a" text-anchor="start" textLength="137.0" lengthAdjust="spacingAndGlyphs" stroke="#c8285a" stroke-width="0.50">ATROPHIERTE</text>
<text x="1073.6" y="388.8" font-size="18.3" fill="#c8285a" text-anchor="start" textLength="146.4" lengthAdjust="spacingAndGlyphs" stroke="#c8285a" stroke-width="0.50">ENTEROZYTEN</text>
<text x="523.0" y="519.4" font-size="15.7" fill="#3a3436" text-anchor="start" textLength="54.0" lengthAdjust="spacingAndGlyphs" stroke="#3a3436" stroke-width="0.50">TIGHT</text>
<text x="505.6" y="536.0" font-size="15.7" fill="#3a3436" text-anchor="start" textLength="88.4" lengthAdjust="spacingAndGlyphs" stroke="#3a3436" stroke-width="0.50">JUNTIONS</text>
<text x="217.0" y="660.1" font-size="20.5" fill="#8d7fb8" text-anchor="start" textLength="119.4" lengthAdjust="spacingAndGlyphs" stroke="#8d7fb8" stroke-width="0.50">ENTEROZYT</text>
<text x="378.5" y="660.1" font-size="20.5" fill="#8c3558" text-anchor="start" textLength="163.2" lengthAdjust="spacingAndGlyphs" stroke="#8c3558" stroke-width="0.50">DARM-BARRIERE</text>
<text x="219.5" y="763.0" font-size="33.4" fill="#c8333a" text-anchor="start" textLength="208.0" lengthAdjust="spacingAndGlyphs" stroke="#c8333a" stroke-width="0.50">BLUTGEFÄSS</text>
<path d="M369,211 L369,237" stroke="#2a9455" stroke-width="1.5"/>
<path d="M272,637 L348,588" stroke="#7a6fa8" stroke-width="1.5"/>
<path d="M437,624.7 L455,630.5 L477,624" stroke="#8c3558" stroke-width="1.8" fill="none"/>
<path d="M1011,513 L1108,405 L1093,527" stroke="#c8285a" stroke-width="1.8" fill="none"/>
<path d="M305,348 L325,378" stroke="#c9a040" stroke-width="1.5"/>
<path d="M376,295 C420,300 450,330 457,363 C470,330 500,310 544,305" stroke="#2e7d55" stroke-width="1.4" fill="none"/>
<path d="M537,298 L544.5,305 L537,312" stroke="#2e7d55" stroke-width="1.4" fill="none"/>
<path d="M192,862.5 L1266,862.5" stroke="#111" stroke-width="2.2"/>
<circle cx="210.0" cy="862.4" r="9" fill="#111"/>
<circle cx="470.0" cy="862.4" r="9" fill="#111"/>
<circle cx="749.0" cy="862.4" r="9" fill="#111"/>
<circle cx="1004.3" cy="862.4" r="9" fill="#111"/>
<circle cx="1266.0" cy="862.4" r="9" fill="#111"/>
<text x="670.7" y="842.3" font-size="19.3" fill="#111" text-anchor="start" textLength="156.6" lengthAdjust="spacingAndGlyphs" stroke="#111" stroke-width="0.70">24-48 STUNDEN</text>
<text x="162.5" y="900.0" font-size="19.3" fill="#111" text-anchor="start" textLength="100.8" lengthAdjust="spacingAndGlyphs" stroke="#111" stroke-width="0.70">KRANKES,</text>
<text x="111.7" y="919.6" font-size="19.3" fill="#111" text-anchor="start" textLength="200.3" lengthAdjust="spacingAndGlyphs" stroke="#111" stroke-width="0.70">INAPPETENTES TIER</text>
<text x="354.0" y="900.0" font-size="19.3" fill="#111" text-anchor="start" textLength="242.0" lengthAdjust="spacingAndGlyphs" stroke="#111" stroke-width="0.70">FEHLENDE NÄHRSTOFFE</text>
<text x="360.7" y="919.6" font-size="19.3" fill="#111" text-anchor="start" textLength="227.6" lengthAdjust="spacingAndGlyphs" stroke="#111" stroke-width="0.70">FÜR DIE ENTEROZYTEN</text>
<text x="700.7" y="900.0" font-size="19.3" fill="#111" text-anchor="start" textLength="99.3" lengthAdjust="spacingAndGlyphs" stroke="#111" stroke-width="0.70">ATROPHIE</text>
<text x="626.0" y="919.6" font-size="19.3" fill="#111" text-anchor="start" textLength="249.0" lengthAdjust="spacingAndGlyphs" stroke="#111" stroke-width="0.70">DER DARMSCHLEIMHAUT</text>
<text x="927.3" y="900.0" font-size="19.3" fill="#111" text-anchor="start" textLength="161.0" lengthAdjust="spacingAndGlyphs" stroke="#111" stroke-width="0.70">LEAKY GUT UND</text>
<text x="942.7" y="919.6" font-size="19.3" fill="#111" text-anchor="start" textLength="130.6" lengthAdjust="spacingAndGlyphs" stroke="#111" stroke-width="0.70">BAKTERIELLE</text>
<text x="921.7" y="939.2" font-size="19.3" fill="#111" text-anchor="start" textLength="171.6" lengthAdjust="spacingAndGlyphs" stroke="#111" stroke-width="0.70">TRANSLOKATION</text>
<text x="1195.6" y="899.0" font-size="19.3" fill="#111" text-anchor="start" textLength="140.0" lengthAdjust="spacingAndGlyphs" stroke="#111" stroke-width="0.70">SYSTEMISCHE</text>
<text x="1194.0" y="918.6" font-size="19.3" fill="#111" text-anchor="start" textLength="143.0" lengthAdjust="spacingAndGlyphs" stroke="#111" stroke-width="0.70">ENTZÜNDUNG</text>
</svg></body></html>
